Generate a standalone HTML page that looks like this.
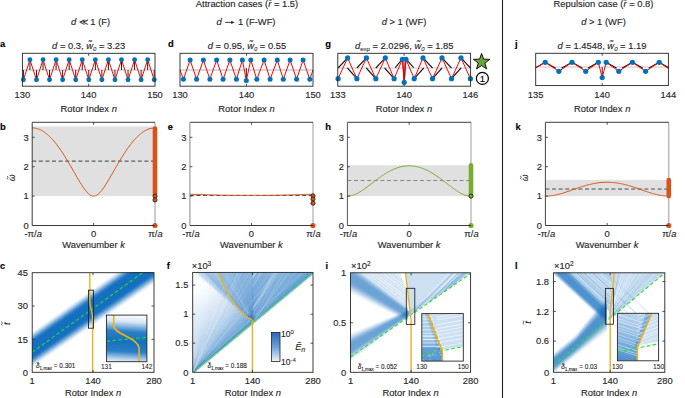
<!DOCTYPE html>
<html><head><meta charset="utf-8"><style>
html,body{margin:0;padding:0;background:#fff;}
svg{display:block;font-family:"Liberation Sans", sans-serif;}
text{stroke:currentColor;stroke-width:0.14px;paint-order:stroke;}
tspan[font-size="6"],tspan[font-size="4.6"],tspan[font-size="7"],text[font-size="6.4"],text[font-size="6.6"]{stroke-width:0.08px;}
</style></head><body>
<svg width="685" height="398" viewBox="0 0 685 398">
<defs>
<clipPath id="clipg"><rect x="337.8" y="53.3" width="132.8" height="32.9"/></clipPath>
<clipPath id="clipj"><rect x="535.7" y="53.3" width="132.7" height="32.3"/></clipPath>
<clipPath id="clipc"><rect x="32.2" y="272.7" width="121.8" height="99.6"/></clipPath>
<clipPath id="clipf"><rect x="192.7" y="272.4" width="120.3" height="99.9"/></clipPath>
<clipPath id="clipfL"><rect x="190" y="270" width="62.7" height="105"/></clipPath>
<clipPath id="clipfR"><rect x="252.5" y="270" width="65" height="105"/></clipPath>
<radialGradient id="gfw" gradientUnits="userSpaceOnUse" cx="193" cy="273" r="80"><stop offset="0" stop-color="#fff" stop-opacity="1"/><stop offset="0.22" stop-color="#fff" stop-opacity="0.92"/><stop offset="0.5" stop-color="#fff" stop-opacity="0.4"/><stop offset="0.85" stop-color="#fff" stop-opacity="0"/></radialGradient>
<clipPath id="clipi"><rect x="350.5" y="272.8" width="120.1" height="99.5"/></clipPath>
<clipPath id="clipii"><rect x="421.8" y="313.6" width="41.5" height="47.5"/></clipPath>
<clipPath id="clipl"><rect x="553.4" y="272.8" width="111.4" height="99.5"/></clipPath>
<clipPath id="clipli"><rect x="617.4" y="313.3" width="41.2" height="47.5"/></clipPath>
<linearGradient id="gci" gradientUnits="userSpaceOnUse" x1="126.00" y1="314.00" x2="123.00" y2="364.00"><stop offset="0" stop-color="#fff" stop-opacity="1"/><stop offset="0.15" stop-color="#d9e7f4" stop-opacity="1"/><stop offset="0.35" stop-color="#2a7fc6" stop-opacity="1"/><stop offset="0.55" stop-color="#1570BE" stop-opacity="1"/><stop offset="0.75" stop-color="#2a7fc6" stop-opacity="1"/><stop offset="0.9" stop-color="#b9d3ec" stop-opacity="1"/><stop offset="1" stop-color="#fff" stop-opacity="1"/></linearGradient><linearGradient id="gcb" gradientUnits="userSpaceOnUse" x1="0.00" y1="332.40" x2="0.00" y2="361.40"><stop offset="0" stop-color="#2868BE" stop-opacity="1"/><stop offset="0.5" stop-color="#6A9FD9" stop-opacity="1"/><stop offset="1" stop-color="#EEF4FB" stop-opacity="1"/></linearGradient><linearGradient id="gii" gradientUnits="userSpaceOnUse" x1="0.00" y1="313.60" x2="0.00" y2="361.10"><stop offset="0" stop-color="#1670C0" stop-opacity="0.30"/><stop offset="0.55" stop-color="#1670C0" stop-opacity="0.40"/><stop offset="0.75" stop-color="#1670C0" stop-opacity="0.68"/><stop offset="1" stop-color="#1670C0" stop-opacity="0.72"/></linearGradient><linearGradient id="gli" gradientUnits="userSpaceOnUse" x1="630.00" y1="313.30" x2="622.00" y2="360.80"><stop offset="0" stop-color="#1670C0" stop-opacity="0.30"/><stop offset="0.6" stop-color="#1670C0" stop-opacity="0.55"/><stop offset="1" stop-color="#1670C0" stop-opacity="0.78"/></linearGradient>
</defs>
<rect width="685" height="398" fill="#fff"/>
<text x="247.00" y="7.20" font-size="9.4" text-anchor="middle" font-weight="normal" fill="#262626" color="#262626" >Attraction cases (<tspan font-style="italic">r&#772;</tspan> = 1.5)</text>
<text x="603.50" y="7.20" font-size="9.4" text-anchor="middle" font-weight="normal" fill="#262626" color="#262626" >Repulsion case (<tspan font-style="italic">r&#772;</tspan> = 0.8)</text>
<text x="90.50" y="25.00" font-size="9.4" text-anchor="middle" font-weight="normal" fill="#262626" color="#262626" ><tspan font-style="italic">d</tspan> &#8810; 1 (F)</text>
<text x="216.60" y="25.00" font-size="9.4" text-anchor="start" font-weight="normal" fill="#262626" color="#262626" ><tspan font-style="italic">d</tspan></text>
<line x1="225.20" y1="22.40" x2="233.00" y2="22.40" stroke="#262626" stroke-width="0.9" />
<path d="M231.2,20.8 L234.6,22.4 L231.2,24.0 Z" fill="#262626"/>
<text x="238.00" y="25.00" font-size="9.4" text-anchor="start" font-weight="normal" fill="#262626" color="#262626" >1 (F-WF)</text>
<text x="404.00" y="25.00" font-size="9.4" text-anchor="middle" font-weight="normal" fill="#262626" color="#262626" ><tspan font-style="italic">d</tspan> &gt; 1 (WF)</text>
<text x="603.50" y="25.00" font-size="9.4" text-anchor="middle" font-weight="normal" fill="#262626" color="#262626" ><tspan font-style="italic">d</tspan> &gt; 1 (WF)</text>
<line x1="502.50" y1="0.00" x2="502.50" y2="398.00" stroke="#222" stroke-width="1.1" />
<text x="0.00" y="47.20" font-size="9.4" text-anchor="start" font-weight="bold" fill="#000" color="#000" >a</text>
<text x="88.70" y="49.20" font-size="9.4" text-anchor="middle" font-weight="normal" fill="#262626" color="#262626" ><tspan font-style="italic">d</tspan> = 0.3, <tspan font-style="italic">w&#771;</tspan><tspan font-size="6" dy="1.6" font-style="italic">0</tspan><tspan dy="-1.6"> = 3.23</tspan></text>
<line x1="22.40" y1="70.00" x2="155.00" y2="70.00" stroke="#d0d0d0" stroke-width="1.5" />
<line x1="23.40" y1="70.00" x2="23.40" y2="79.80" stroke="#222" stroke-width="1" />
<line x1="29.94" y1="70.00" x2="29.94" y2="59.80" stroke="#222" stroke-width="1" />
<line x1="36.48" y1="70.00" x2="36.48" y2="79.80" stroke="#222" stroke-width="1" />
<line x1="43.02" y1="70.00" x2="43.02" y2="59.80" stroke="#222" stroke-width="1" />
<line x1="49.56" y1="70.00" x2="49.56" y2="79.80" stroke="#222" stroke-width="1" />
<line x1="56.10" y1="70.00" x2="56.10" y2="59.80" stroke="#222" stroke-width="1" />
<line x1="62.64" y1="70.00" x2="62.64" y2="79.80" stroke="#222" stroke-width="1" />
<line x1="69.18" y1="70.00" x2="69.18" y2="59.80" stroke="#222" stroke-width="1" />
<line x1="75.72" y1="70.00" x2="75.72" y2="79.80" stroke="#222" stroke-width="1" />
<line x1="82.26" y1="70.00" x2="82.26" y2="59.80" stroke="#222" stroke-width="1" />
<line x1="88.80" y1="70.00" x2="88.80" y2="79.80" stroke="#222" stroke-width="1" />
<line x1="95.34" y1="70.00" x2="95.34" y2="59.80" stroke="#222" stroke-width="1" />
<line x1="101.88" y1="70.00" x2="101.88" y2="79.80" stroke="#222" stroke-width="1" />
<line x1="108.42" y1="70.00" x2="108.42" y2="59.80" stroke="#222" stroke-width="1" />
<line x1="114.96" y1="70.00" x2="114.96" y2="79.80" stroke="#222" stroke-width="1" />
<line x1="121.50" y1="70.00" x2="121.50" y2="59.80" stroke="#222" stroke-width="1" />
<line x1="128.04" y1="70.00" x2="128.04" y2="79.80" stroke="#222" stroke-width="1" />
<line x1="134.58" y1="70.00" x2="134.58" y2="59.80" stroke="#222" stroke-width="1" />
<line x1="141.12" y1="70.00" x2="141.12" y2="79.80" stroke="#222" stroke-width="1" />
<line x1="147.66" y1="70.00" x2="147.66" y2="59.80" stroke="#222" stroke-width="1" />
<line x1="154.20" y1="70.00" x2="154.20" y2="79.80" stroke="#222" stroke-width="1" />
<polyline points="23.40,79.80 29.94,59.80 36.48,79.80 43.02,59.80 49.56,79.80 56.10,59.80 62.64,79.80 69.18,59.80 75.72,79.80 82.26,59.80 88.80,79.80 95.34,59.80 101.88,79.80 108.42,59.80 114.96,79.80 121.50,59.80 128.04,79.80 134.58,59.80 141.12,79.80 147.66,59.80 154.20,79.80" fill="none" stroke="#FF0000" stroke-width="1" stroke-linejoin="round" />
<circle cx="23.40" cy="79.80" r="2.45" fill="#0072BD" stroke="none" stroke-width="0"/>
<circle cx="29.94" cy="59.80" r="2.45" fill="#0072BD" stroke="none" stroke-width="0"/>
<circle cx="36.48" cy="79.80" r="2.45" fill="#0072BD" stroke="none" stroke-width="0"/>
<circle cx="43.02" cy="59.80" r="2.45" fill="#0072BD" stroke="none" stroke-width="0"/>
<circle cx="49.56" cy="79.80" r="2.45" fill="#0072BD" stroke="none" stroke-width="0"/>
<circle cx="56.10" cy="59.80" r="2.45" fill="#0072BD" stroke="none" stroke-width="0"/>
<circle cx="62.64" cy="79.80" r="2.45" fill="#0072BD" stroke="none" stroke-width="0"/>
<circle cx="69.18" cy="59.80" r="2.45" fill="#0072BD" stroke="none" stroke-width="0"/>
<circle cx="75.72" cy="79.80" r="2.45" fill="#0072BD" stroke="none" stroke-width="0"/>
<circle cx="82.26" cy="59.80" r="2.45" fill="#0072BD" stroke="none" stroke-width="0"/>
<circle cx="88.80" cy="79.80" r="2.45" fill="#0072BD" stroke="none" stroke-width="0"/>
<circle cx="95.34" cy="59.80" r="2.45" fill="#0072BD" stroke="none" stroke-width="0"/>
<circle cx="101.88" cy="79.80" r="2.45" fill="#0072BD" stroke="none" stroke-width="0"/>
<circle cx="108.42" cy="59.80" r="2.45" fill="#0072BD" stroke="none" stroke-width="0"/>
<circle cx="114.96" cy="79.80" r="2.45" fill="#0072BD" stroke="none" stroke-width="0"/>
<circle cx="121.50" cy="59.80" r="2.45" fill="#0072BD" stroke="none" stroke-width="0"/>
<circle cx="128.04" cy="79.80" r="2.45" fill="#0072BD" stroke="none" stroke-width="0"/>
<circle cx="134.58" cy="59.80" r="2.45" fill="#0072BD" stroke="none" stroke-width="0"/>
<circle cx="141.12" cy="79.80" r="2.45" fill="#0072BD" stroke="none" stroke-width="0"/>
<circle cx="147.66" cy="59.80" r="2.45" fill="#0072BD" stroke="none" stroke-width="0"/>
<circle cx="154.20" cy="79.80" r="2.45" fill="#0072BD" stroke="none" stroke-width="0"/>
<rect x="22.40" y="53.30" width="132.60" height="32.90" fill="none" stroke="#262626" stroke-width="0.9"/>
<line x1="88.70" y1="53.30" x2="88.70" y2="55.80" stroke="#262626" stroke-width="0.8" />
<line x1="88.70" y1="86.20" x2="88.70" y2="83.70" stroke="#262626" stroke-width="0.8" />
<text x="22.40" y="97.60" font-size="9.4" text-anchor="middle" font-weight="normal" fill="#262626" color="#262626" >130</text>
<text x="88.70" y="97.60" font-size="9.4" text-anchor="middle" font-weight="normal" fill="#262626" color="#262626" >140</text>
<text x="155.00" y="97.60" font-size="9.4" text-anchor="middle" font-weight="normal" fill="#262626" color="#262626" >150</text>
<text x="88.70" y="111.70" font-size="9.4" text-anchor="middle" font-weight="normal" fill="#262626" color="#262626" >Rotor Index <tspan font-style="italic">n</tspan></text>
<text x="168.00" y="47.20" font-size="9.4" text-anchor="start" font-weight="bold" fill="#000" color="#000" >d</text>
<text x="247.00" y="49.20" font-size="9.4" text-anchor="middle" font-weight="normal" fill="#262626" color="#262626" ><tspan font-style="italic">d</tspan> = 0.95, <tspan font-style="italic">w&#771;</tspan><tspan font-size="6" dy="1.6" font-style="italic">0</tspan><tspan dy="-1.6"> = 0.55</tspan></text>
<line x1="180.00" y1="70.00" x2="313.00" y2="70.00" stroke="#d8d8d8" stroke-width="2" />
<line x1="246.30" y1="68.00" x2="246.30" y2="80.50" stroke="#222" stroke-width="1" />
<polyline points="180.00,70.00 183.40,79.30 190.10,60.00 196.60,79.30 203.40,60.00 209.90,79.30 216.60,60.00 223.10,79.30 229.90,60.00 236.40,79.30 242.40,60.00 246.30,80.50 250.80,60.00 256.80,79.30 264.10,60.00 270.10,79.30 277.30,60.00 283.30,79.30 290.10,60.00 296.60,79.30 303.10,60.00 309.80,79.30 313.00,70.00" fill="none" stroke="#FF0000" stroke-width="1" stroke-linejoin="round" />
<circle cx="183.40" cy="79.30" r="2.5" fill="#0072BD" stroke="none" stroke-width="0"/>
<circle cx="190.10" cy="60.00" r="2.5" fill="#0072BD" stroke="none" stroke-width="0"/>
<circle cx="196.60" cy="79.30" r="2.5" fill="#0072BD" stroke="none" stroke-width="0"/>
<circle cx="203.40" cy="60.00" r="2.5" fill="#0072BD" stroke="none" stroke-width="0"/>
<circle cx="209.90" cy="79.30" r="2.5" fill="#0072BD" stroke="none" stroke-width="0"/>
<circle cx="216.60" cy="60.00" r="2.5" fill="#0072BD" stroke="none" stroke-width="0"/>
<circle cx="223.10" cy="79.30" r="2.5" fill="#0072BD" stroke="none" stroke-width="0"/>
<circle cx="229.90" cy="60.00" r="2.5" fill="#0072BD" stroke="none" stroke-width="0"/>
<circle cx="236.40" cy="79.30" r="2.5" fill="#0072BD" stroke="none" stroke-width="0"/>
<circle cx="242.40" cy="60.00" r="2.5" fill="#0072BD" stroke="none" stroke-width="0"/>
<circle cx="246.30" cy="80.50" r="2.5" fill="#0072BD" stroke="none" stroke-width="0"/>
<circle cx="250.80" cy="60.00" r="2.5" fill="#0072BD" stroke="none" stroke-width="0"/>
<circle cx="256.80" cy="79.30" r="2.5" fill="#0072BD" stroke="none" stroke-width="0"/>
<circle cx="264.10" cy="60.00" r="2.5" fill="#0072BD" stroke="none" stroke-width="0"/>
<circle cx="270.10" cy="79.30" r="2.5" fill="#0072BD" stroke="none" stroke-width="0"/>
<circle cx="277.30" cy="60.00" r="2.5" fill="#0072BD" stroke="none" stroke-width="0"/>
<circle cx="283.30" cy="79.30" r="2.5" fill="#0072BD" stroke="none" stroke-width="0"/>
<circle cx="290.10" cy="60.00" r="2.5" fill="#0072BD" stroke="none" stroke-width="0"/>
<circle cx="296.60" cy="79.30" r="2.5" fill="#0072BD" stroke="none" stroke-width="0"/>
<circle cx="303.10" cy="60.00" r="2.5" fill="#0072BD" stroke="none" stroke-width="0"/>
<circle cx="309.80" cy="79.30" r="2.5" fill="#0072BD" stroke="none" stroke-width="0"/>
<rect x="180.00" y="53.30" width="133.00" height="32.90" fill="none" stroke="#262626" stroke-width="0.9"/>
<line x1="246.50" y1="53.30" x2="246.50" y2="55.80" stroke="#262626" stroke-width="0.8" />
<line x1="246.50" y1="86.20" x2="246.50" y2="83.70" stroke="#262626" stroke-width="0.8" />
<text x="180.00" y="97.60" font-size="9.4" text-anchor="middle" font-weight="normal" fill="#262626" color="#262626" >130</text>
<text x="246.50" y="97.60" font-size="9.4" text-anchor="middle" font-weight="normal" fill="#262626" color="#262626" >140</text>
<text x="313.00" y="97.60" font-size="9.4" text-anchor="middle" font-weight="normal" fill="#262626" color="#262626" >150</text>
<text x="246.50" y="111.70" font-size="9.4" text-anchor="middle" font-weight="normal" fill="#262626" color="#262626" >Rotor Index <tspan font-style="italic">n</tspan></text>
<text x="325.30" y="47.20" font-size="9.4" text-anchor="start" font-weight="bold" fill="#000" color="#000" >g</text>
<text x="404.20" y="49.20" font-size="9.4" text-anchor="middle" font-weight="normal" fill="#262626" color="#262626" ><tspan font-style="italic">d</tspan><tspan font-size="6" dy="1.6">exp</tspan><tspan dy="-1.6"> = 2.0296, </tspan><tspan font-style="italic">w&#771;</tspan><tspan font-size="6" dy="1.6" font-style="italic">0</tspan><tspan dy="-1.6"> = 1.85</tspan></text>
<line x1="337.80" y1="68.00" x2="470.60" y2="68.00" stroke="#d8d8d8" stroke-width="1.5" />
<g clip-path="url(#clipg)">
<line x1="338.10" y1="68.00" x2="347.60" y2="57.90" stroke="#1a1a1a" stroke-width="1.15" />
<line x1="356.90" y1="68.00" x2="366.40" y2="57.90" stroke="#1a1a1a" stroke-width="1.15" />
<line x1="375.80" y1="68.00" x2="385.30" y2="57.90" stroke="#1a1a1a" stroke-width="1.15" />
<line x1="328.60" y1="68.00" x2="338.10" y2="78.70" stroke="#1a1a1a" stroke-width="1.15" />
<line x1="347.40" y1="68.00" x2="356.90" y2="78.70" stroke="#1a1a1a" stroke-width="1.15" />
<line x1="366.30" y1="68.00" x2="375.80" y2="78.70" stroke="#1a1a1a" stroke-width="1.15" />
<line x1="384.60" y1="68.00" x2="394.10" y2="78.70" stroke="#1a1a1a" stroke-width="1.15" />
<line x1="423.00" y1="57.90" x2="432.50" y2="68.00" stroke="#1a1a1a" stroke-width="1.15" />
<line x1="442.00" y1="57.90" x2="451.50" y2="68.00" stroke="#1a1a1a" stroke-width="1.15" />
<line x1="461.00" y1="57.90" x2="470.50" y2="68.00" stroke="#1a1a1a" stroke-width="1.15" />
<line x1="414.20" y1="78.70" x2="423.70" y2="68.00" stroke="#1a1a1a" stroke-width="1.15" />
<line x1="432.50" y1="78.70" x2="442.00" y2="68.00" stroke="#1a1a1a" stroke-width="1.15" />
<line x1="451.50" y1="78.70" x2="461.00" y2="68.00" stroke="#1a1a1a" stroke-width="1.15" />
<line x1="470.40" y1="78.70" x2="479.90" y2="68.00" stroke="#1a1a1a" stroke-width="1.15" />
<line x1="395.20" y1="67.70" x2="402.40" y2="59.20" stroke="#1a1a1a" stroke-width="1.15" />
<line x1="406.00" y1="59.20" x2="413.70" y2="67.70" stroke="#1a1a1a" stroke-width="1.15" />
</g>
<polyline points="338.10,78.70 347.60,57.90 356.90,78.70 366.40,57.90 375.80,78.70 385.30,57.90 394.10,78.70 402.40,59.30 404.20,82.30 406.00,59.30 414.20,78.70 423.00,57.90 432.50,78.70 442.00,57.90 451.50,78.70 461.00,57.90 470.40,78.70" fill="none" stroke="#FF0000" stroke-width="1" stroke-linejoin="round" />
<line x1="402.60" y1="59.30" x2="404.20" y2="82.30" stroke="#FF0000" stroke-width="1.1" />
<line x1="405.80" y1="59.30" x2="404.20" y2="82.30" stroke="#FF0000" stroke-width="1.1" />
<line x1="404.20" y1="62.00" x2="404.20" y2="80.00" stroke="#7a1010" stroke-width="0.8" />
<circle cx="338.10" cy="78.70" r="2.6" fill="#0072BD" stroke="none" stroke-width="0"/>
<circle cx="347.60" cy="57.90" r="2.6" fill="#0072BD" stroke="none" stroke-width="0"/>
<circle cx="356.90" cy="78.70" r="2.6" fill="#0072BD" stroke="none" stroke-width="0"/>
<circle cx="366.40" cy="57.90" r="2.6" fill="#0072BD" stroke="none" stroke-width="0"/>
<circle cx="375.80" cy="78.70" r="2.6" fill="#0072BD" stroke="none" stroke-width="0"/>
<circle cx="385.30" cy="57.90" r="2.6" fill="#0072BD" stroke="none" stroke-width="0"/>
<circle cx="394.10" cy="78.70" r="2.6" fill="#0072BD" stroke="none" stroke-width="0"/>
<circle cx="402.40" cy="59.30" r="2.6" fill="#0072BD" stroke="none" stroke-width="0"/>
<circle cx="404.20" cy="82.30" r="2.6" fill="#0072BD" stroke="none" stroke-width="0"/>
<circle cx="406.00" cy="59.30" r="2.6" fill="#0072BD" stroke="none" stroke-width="0"/>
<circle cx="414.20" cy="78.70" r="2.6" fill="#0072BD" stroke="none" stroke-width="0"/>
<circle cx="423.00" cy="57.90" r="2.6" fill="#0072BD" stroke="none" stroke-width="0"/>
<circle cx="432.50" cy="78.70" r="2.6" fill="#0072BD" stroke="none" stroke-width="0"/>
<circle cx="442.00" cy="57.90" r="2.6" fill="#0072BD" stroke="none" stroke-width="0"/>
<circle cx="451.50" cy="78.70" r="2.6" fill="#0072BD" stroke="none" stroke-width="0"/>
<circle cx="461.00" cy="57.90" r="2.6" fill="#0072BD" stroke="none" stroke-width="0"/>
<circle cx="470.40" cy="78.70" r="2.6" fill="#0072BD" stroke="none" stroke-width="0"/>
<rect x="337.80" y="53.30" width="132.80" height="32.90" fill="none" stroke="#262626" stroke-width="0.9"/>
<line x1="404.10" y1="53.30" x2="404.10" y2="55.80" stroke="#262626" stroke-width="0.8" />
<line x1="404.10" y1="86.20" x2="404.10" y2="83.70" stroke="#262626" stroke-width="0.8" />
<text x="337.80" y="97.60" font-size="9.4" text-anchor="middle" font-weight="normal" fill="#262626" color="#262626" >133</text>
<text x="404.10" y="97.60" font-size="9.4" text-anchor="middle" font-weight="normal" fill="#262626" color="#262626" >140</text>
<text x="470.30" y="97.60" font-size="9.4" text-anchor="middle" font-weight="normal" fill="#262626" color="#262626" >146</text>
<text x="404.00" y="111.70" font-size="9.4" text-anchor="middle" font-weight="normal" fill="#262626" color="#262626" >Rotor Index <tspan font-style="italic">n</tspan></text>
<polygon points="481.60,53.40 483.66,59.17 489.78,59.34 484.93,63.08 486.65,68.96 481.60,65.50 476.55,68.96 478.27,63.08 473.42,59.34 479.54,59.17" fill="#6BA43A" stroke="#000" stroke-width="0.9" stroke-linejoin="miter"/>
<circle cx="482.4" cy="78.4" r="6.0" fill="none" stroke="#000" stroke-width="1.2"/>
<text x="482.50" y="81.90" font-size="9.5" text-anchor="middle" font-weight="normal" fill="#000" color="#000" >1</text>
<text x="515.00" y="47.20" font-size="9.4" text-anchor="start" font-weight="bold" fill="#000" color="#000" >j</text>
<text x="602.00" y="49.20" font-size="9.4" text-anchor="middle" font-weight="normal" fill="#262626" color="#262626" ><tspan font-style="italic">d</tspan> = 1.4548, <tspan font-style="italic">w&#771;</tspan><tspan font-size="6" dy="1.6" font-style="italic">0</tspan><tspan dy="-1.6"> = 1.19</tspan></text>
<line x1="535.70" y1="67.10" x2="668.40" y2="67.10" stroke="#d8d8d8" stroke-width="1.5" />
<g clip-path="url(#clipj)">
<line x1="545.20" y1="62.30" x2="534.70" y2="68.20" stroke="#1a1a1a" stroke-width="1.1" />
<line x1="545.20" y1="62.30" x2="555.70" y2="68.20" stroke="#1a1a1a" stroke-width="1.1" />
<line x1="572.00" y1="62.30" x2="561.50" y2="68.20" stroke="#1a1a1a" stroke-width="1.1" />
<line x1="572.00" y1="62.30" x2="582.50" y2="68.20" stroke="#1a1a1a" stroke-width="1.1" />
<line x1="598.30" y1="62.30" x2="587.80" y2="68.20" stroke="#1a1a1a" stroke-width="1.1" />
<line x1="606.20" y1="62.30" x2="616.70" y2="68.20" stroke="#1a1a1a" stroke-width="1.1" />
<line x1="632.40" y1="62.30" x2="621.90" y2="68.20" stroke="#1a1a1a" stroke-width="1.1" />
<line x1="632.40" y1="62.30" x2="642.90" y2="68.20" stroke="#1a1a1a" stroke-width="1.1" />
<line x1="659.20" y1="62.30" x2="648.70" y2="68.20" stroke="#1a1a1a" stroke-width="1.1" />
<line x1="659.20" y1="62.30" x2="669.70" y2="68.20" stroke="#1a1a1a" stroke-width="1.1" />
<line x1="602.20" y1="67.00" x2="602.20" y2="77.60" stroke="#222" stroke-width="1" />
</g>
<polyline points="535.70,67.80 545.20,62.30 558.90,71.30 572.00,62.30 585.70,71.30 598.30,62.30 602.20,77.60 606.20,62.30 618.80,71.30 632.40,62.30 645.60,71.30 659.20,62.30 668.40,68.50" fill="none" stroke="#FF0000" stroke-width="1" stroke-linejoin="round" />
<circle cx="545.20" cy="62.30" r="2.6" fill="#0072BD" stroke="none" stroke-width="0"/>
<circle cx="558.90" cy="71.30" r="2.6" fill="#0072BD" stroke="none" stroke-width="0"/>
<circle cx="572.00" cy="62.30" r="2.6" fill="#0072BD" stroke="none" stroke-width="0"/>
<circle cx="585.70" cy="71.30" r="2.6" fill="#0072BD" stroke="none" stroke-width="0"/>
<circle cx="598.30" cy="62.30" r="2.6" fill="#0072BD" stroke="none" stroke-width="0"/>
<circle cx="602.20" cy="77.60" r="2.6" fill="#0072BD" stroke="none" stroke-width="0"/>
<circle cx="606.20" cy="62.30" r="2.6" fill="#0072BD" stroke="none" stroke-width="0"/>
<circle cx="618.80" cy="71.30" r="2.6" fill="#0072BD" stroke="none" stroke-width="0"/>
<circle cx="632.40" cy="62.30" r="2.6" fill="#0072BD" stroke="none" stroke-width="0"/>
<circle cx="645.60" cy="71.30" r="2.6" fill="#0072BD" stroke="none" stroke-width="0"/>
<circle cx="659.20" cy="62.30" r="2.6" fill="#0072BD" stroke="none" stroke-width="0"/>
<rect x="535.70" y="53.30" width="132.70" height="32.30" fill="none" stroke="#262626" stroke-width="0.9"/>
<line x1="602.20" y1="53.30" x2="602.20" y2="55.80" stroke="#262626" stroke-width="0.8" />
<line x1="602.20" y1="85.60" x2="602.20" y2="83.10" stroke="#262626" stroke-width="0.8" />
<text x="535.70" y="97.60" font-size="9.4" text-anchor="middle" font-weight="normal" fill="#262626" color="#262626" >135</text>
<text x="602.20" y="97.60" font-size="9.4" text-anchor="middle" font-weight="normal" fill="#262626" color="#262626" >140</text>
<text x="668.40" y="97.60" font-size="9.4" text-anchor="middle" font-weight="normal" fill="#262626" color="#262626" >144</text>
<text x="602.20" y="111.70" font-size="9.4" text-anchor="middle" font-weight="normal" fill="#262626" color="#262626" >Rotor Index <tspan font-style="italic">n</tspan></text>
<text x="0.00" y="130.00" font-size="9.4" text-anchor="start" font-weight="bold" fill="#000" color="#000" >b</text>
<rect x="32.20" y="126.42" width="122.80" height="69.68" fill="#E0E0E0"/>
<line x1="32.20" y1="161.11" x2="155.00" y2="161.11" stroke="#222" stroke-width="0.85" stroke-dasharray="4,2.6"/>
<polyline points="32.20,127.89 33.22,127.92 34.25,128.01 35.27,128.17 36.29,128.38 37.32,128.65 38.34,128.98 39.36,129.38 40.39,129.83 41.41,130.34 42.43,130.91 43.46,131.54 44.48,132.23 45.50,132.97 46.53,133.77 47.55,134.62 48.57,135.53 49.60,136.50 50.62,137.51 51.64,138.58 52.67,139.70 53.69,140.87 54.71,142.09 55.74,143.35 56.76,144.66 57.78,146.02 58.81,147.42 59.83,148.86 60.85,150.34 61.88,151.86 62.90,153.42 63.92,155.01 64.95,156.63 65.97,158.28 66.99,159.96 68.02,161.67 69.04,163.39 70.06,165.14 71.09,166.90 72.11,168.67 73.13,170.45 74.16,172.24 75.18,174.02 76.20,175.80 77.23,177.57 78.25,179.32 79.27,181.04 80.30,182.73 81.32,184.37 82.34,185.96 83.37,187.49 84.39,188.94 85.41,190.30 86.44,191.56 87.46,192.69 88.48,193.69 89.51,194.53 90.53,195.21 91.55,195.70 92.58,196.00 93.60,196.10 94.62,196.00 95.65,195.70 96.67,195.21 97.69,194.53 98.72,193.69 99.74,192.69 100.76,191.56 101.79,190.30 102.81,188.94 103.83,187.49 104.86,185.96 105.88,184.37 106.90,182.73 107.93,181.04 108.95,179.32 109.97,177.57 111.00,175.80 112.02,174.02 113.04,172.24 114.07,170.45 115.09,168.67 116.11,166.90 117.14,165.14 118.16,163.39 119.18,161.67 120.21,159.96 121.23,158.28 122.25,156.63 123.28,155.01 124.30,153.42 125.32,151.86 126.35,150.34 127.37,148.86 128.39,147.42 129.42,146.02 130.44,144.66 131.46,143.35 132.49,142.09 133.51,140.87 134.53,139.70 135.56,138.58 136.58,137.51 137.60,136.50 138.63,135.53 139.65,134.62 140.67,133.77 141.70,132.97 142.72,132.23 143.74,131.54 144.77,130.91 145.79,130.34 146.81,129.83 147.84,129.38 148.86,128.98 149.88,128.65 150.91,128.38 151.93,128.17 152.95,128.01 153.98,127.92 155.00,127.89" fill="none" stroke="#D95319" stroke-width="1" stroke-linejoin="round" />
<line x1="155.00" y1="122.30" x2="155.00" y2="225.50" stroke="#9a9a9a" stroke-width="1" />
<line x1="155.00" y1="128.48" x2="155.00" y2="194.04" stroke="#D95319" stroke-width="4.6" stroke-linecap="round"/>
<circle cx="155.00" cy="196.10" r="2.1" fill="#D95319" stroke="#111" stroke-width="0.75"/>
<circle cx="155.00" cy="199.92" r="2.1" fill="#D95319" stroke="#111" stroke-width="0.75"/>
<circle cx="155.00" cy="225.50" r="2.6" fill="#D95319" stroke="none" stroke-width="0"/>
<line x1="32.20" y1="122.30" x2="155.00" y2="122.30" stroke="#262626" stroke-width="0.9" />
<line x1="32.20" y1="122.30" x2="32.20" y2="225.50" stroke="#262626" stroke-width="0.9" />
<line x1="32.20" y1="225.50" x2="155.00" y2="225.50" stroke="#262626" stroke-width="0.9" />
<line x1="32.20" y1="196.10" x2="34.70" y2="196.10" stroke="#262626" stroke-width="0.8" />
<line x1="32.20" y1="166.70" x2="34.70" y2="166.70" stroke="#262626" stroke-width="0.8" />
<line x1="32.20" y1="137.30" x2="34.70" y2="137.30" stroke="#262626" stroke-width="0.8" />
<line x1="93.60" y1="225.50" x2="93.60" y2="223.00" stroke="#262626" stroke-width="0.8" />
<line x1="93.60" y1="122.30" x2="93.60" y2="124.80" stroke="#262626" stroke-width="0.8" />
<text x="28.70" y="228.70" font-size="9.4" text-anchor="end" font-weight="normal" fill="#262626" color="#262626" >0</text>
<text x="28.70" y="199.30" font-size="9.4" text-anchor="end" font-weight="normal" fill="#262626" color="#262626" >1</text>
<text x="28.70" y="169.90" font-size="9.4" text-anchor="end" font-weight="normal" fill="#262626" color="#262626" >2</text>
<text x="28.70" y="140.50" font-size="9.4" text-anchor="end" font-weight="normal" fill="#262626" color="#262626" >3</text>
<text x="33.20" y="237.40" font-size="9.4" text-anchor="middle" font-weight="normal" fill="#262626" color="#262626" >-&#960;/<tspan font-style="italic">a</tspan></text>
<text x="93.60" y="237.40" font-size="9.4" text-anchor="middle" font-weight="normal" fill="#262626" color="#262626" >0</text>
<text x="155.50" y="237.40" font-size="9.4" text-anchor="middle" font-weight="normal" fill="#262626" color="#262626" >&#960;/<tspan font-style="italic">a</tspan></text>
<text x="93.60" y="247.60" font-size="9.4" text-anchor="middle" font-weight="normal" fill="#262626" color="#262626" >Wavenumber <tspan font-style="italic">k</tspan></text>
<g transform="translate(15.00,177.80) rotate(-90)"><text x="0" y="0" font-size="8.4" text-anchor="middle" fill="#262626" color="#262626" font-style="italic">&#969;</text><path d="M-1.50,-6.80 C-0.90,-8.40 -0.30,-7.50 0,-7.30 S0.90,-6.30 1.50,-7.90" fill="none" stroke="#262626" stroke-width="0.75"/></g>
<text x="167.70" y="130.00" font-size="9.4" text-anchor="start" font-weight="bold" fill="#000" color="#000" >e</text>
<rect x="189.90" y="194.63" width="123.10" height="1.47" fill="#E0E0E0"/>
<line x1="189.90" y1="195.51" x2="313.00" y2="195.51" stroke="#333" stroke-width="0.85" stroke-dasharray="4,2.6"/>
<polyline points="189.90,194.34 190.93,194.34 191.95,194.34 192.98,194.35 194.00,194.36 195.03,194.37 196.06,194.39 197.08,194.40 198.11,194.42 199.13,194.45 200.16,194.47 201.18,194.50 202.21,194.52 203.24,194.55 204.26,194.58 205.29,194.62 206.31,194.65 207.34,194.68 208.37,194.72 209.39,194.75 210.42,194.79 211.44,194.82 212.47,194.86 213.49,194.89 214.52,194.92 215.55,194.96 216.57,194.99 217.60,195.02 218.62,195.05 219.65,195.08 220.68,195.11 221.70,195.13 222.73,195.16 223.75,195.18 224.78,195.20 225.80,195.22 226.83,195.24 227.86,195.26 228.88,195.27 229.91,195.29 230.93,195.30 231.96,195.31 232.99,195.32 234.01,195.33 235.04,195.34 236.06,195.34 237.09,195.35 238.11,195.35 239.14,195.36 240.17,195.36 241.19,195.36 242.22,195.36 243.24,195.36 244.27,195.36 245.30,195.36 246.32,195.36 247.35,195.36 248.37,195.36 249.40,195.36 250.42,195.36 251.45,195.37 252.48,195.36 253.50,195.36 254.53,195.36 255.55,195.36 256.58,195.36 257.61,195.36 258.63,195.36 259.66,195.36 260.68,195.36 261.71,195.36 262.73,195.36 263.76,195.36 264.79,195.35 265.81,195.35 266.84,195.34 267.86,195.34 268.89,195.33 269.92,195.32 270.94,195.31 271.97,195.30 272.99,195.29 274.02,195.27 275.04,195.26 276.07,195.24 277.10,195.22 278.12,195.20 279.15,195.18 280.17,195.16 281.20,195.13 282.23,195.11 283.25,195.08 284.28,195.05 285.30,195.02 286.33,194.99 287.35,194.96 288.38,194.92 289.41,194.89 290.43,194.86 291.46,194.82 292.48,194.79 293.51,194.75 294.53,194.72 295.56,194.68 296.59,194.65 297.61,194.62 298.64,194.58 299.66,194.55 300.69,194.52 301.72,194.50 302.74,194.47 303.77,194.45 304.79,194.42 305.82,194.40 306.85,194.39 307.87,194.37 308.90,194.36 309.92,194.35 310.95,194.34 311.97,194.34 313.00,194.34" fill="none" stroke="#D95319" stroke-width="1" stroke-linejoin="round" />
<line x1="313.00" y1="122.30" x2="313.00" y2="225.50" stroke="#9a9a9a" stroke-width="1" />
<circle cx="313.00" cy="195.81" r="2.1" fill="#D95319" stroke="#111" stroke-width="0.75"/>
<circle cx="313.00" cy="199.04" r="2.1" fill="#D95319" stroke="#111" stroke-width="0.75"/>
<circle cx="313.00" cy="203.16" r="2.1" fill="#D95319" stroke="#111" stroke-width="0.75"/>
<circle cx="313.00" cy="225.50" r="2.6" fill="#D95319" stroke="none" stroke-width="0"/>
<line x1="189.90" y1="122.30" x2="313.00" y2="122.30" stroke="#262626" stroke-width="0.9" />
<line x1="189.90" y1="122.30" x2="189.90" y2="225.50" stroke="#9a9a9a" stroke-width="1.2" />
<line x1="189.90" y1="225.50" x2="313.00" y2="225.50" stroke="#262626" stroke-width="0.9" />
<line x1="189.90" y1="196.10" x2="192.40" y2="196.10" stroke="#262626" stroke-width="0.8" />
<line x1="189.90" y1="166.70" x2="192.40" y2="166.70" stroke="#262626" stroke-width="0.8" />
<line x1="189.90" y1="137.30" x2="192.40" y2="137.30" stroke="#262626" stroke-width="0.8" />
<line x1="251.45" y1="225.50" x2="251.45" y2="223.00" stroke="#262626" stroke-width="0.8" />
<line x1="251.45" y1="122.30" x2="251.45" y2="124.80" stroke="#262626" stroke-width="0.8" />
<text x="186.40" y="228.70" font-size="9.4" text-anchor="end" font-weight="normal" fill="#262626" color="#262626" >0</text>
<text x="186.40" y="199.30" font-size="9.4" text-anchor="end" font-weight="normal" fill="#262626" color="#262626" >1</text>
<text x="186.40" y="169.90" font-size="9.4" text-anchor="end" font-weight="normal" fill="#262626" color="#262626" >2</text>
<text x="186.40" y="140.50" font-size="9.4" text-anchor="end" font-weight="normal" fill="#262626" color="#262626" >3</text>
<text x="190.90" y="237.40" font-size="9.4" text-anchor="middle" font-weight="normal" fill="#262626" color="#262626" >-&#960;/<tspan font-style="italic">a</tspan></text>
<text x="251.45" y="237.40" font-size="9.4" text-anchor="middle" font-weight="normal" fill="#262626" color="#262626" >0</text>
<text x="313.50" y="237.40" font-size="9.4" text-anchor="middle" font-weight="normal" fill="#262626" color="#262626" >&#960;/<tspan font-style="italic">a</tspan></text>
<text x="251.45" y="247.60" font-size="9.4" text-anchor="middle" font-weight="normal" fill="#262626" color="#262626" >Wavenumber <tspan font-style="italic">k</tspan></text>
<text x="325.30" y="130.00" font-size="9.4" text-anchor="start" font-weight="bold" fill="#000" color="#000" >h</text>
<rect x="347.40" y="165.23" width="123.60" height="30.87" fill="#E0E0E0"/>
<line x1="347.40" y1="180.52" x2="471.00" y2="180.52" stroke="#777" stroke-width="0.85" stroke-dasharray="4,2.6"/>
<polyline points="347.40,196.10 348.43,196.07 349.46,195.97 350.49,195.82 351.52,195.60 352.55,195.33 353.58,195.00 354.61,194.61 355.64,194.18 356.67,193.70 357.70,193.17 358.73,192.61 359.76,192.00 360.79,191.37 361.82,190.70 362.85,190.01 363.88,189.30 364.91,188.56 365.94,187.81 366.97,187.05 368.00,186.27 369.03,185.49 370.06,184.70 371.09,183.91 372.12,183.12 373.15,182.33 374.18,181.54 375.21,180.75 376.24,179.98 377.27,179.21 378.30,178.46 379.33,177.71 380.36,176.98 381.39,176.26 382.42,175.56 383.45,174.88 384.48,174.22 385.51,173.57 386.54,172.95 387.57,172.34 388.60,171.76 389.63,171.21 390.66,170.67 391.69,170.16 392.72,169.68 393.75,169.22 394.78,168.79 395.81,168.39 396.84,168.02 397.87,167.67 398.90,167.35 399.93,167.06 400.96,166.80 401.99,166.57 403.02,166.37 404.05,166.20 405.08,166.07 406.11,165.96 407.14,165.88 408.17,165.83 409.20,165.82 410.23,165.83 411.26,165.88 412.29,165.96 413.32,166.07 414.35,166.20 415.38,166.37 416.41,166.57 417.44,166.80 418.47,167.06 419.50,167.35 420.53,167.67 421.56,168.02 422.59,168.39 423.62,168.79 424.65,169.22 425.68,169.68 426.71,170.16 427.74,170.67 428.77,171.21 429.80,171.76 430.83,172.34 431.86,172.95 432.89,173.57 433.92,174.22 434.95,174.88 435.98,175.56 437.01,176.26 438.04,176.98 439.07,177.71 440.10,178.46 441.13,179.21 442.16,179.98 443.19,180.75 444.22,181.54 445.25,182.33 446.28,183.12 447.31,183.91 448.34,184.70 449.37,185.49 450.40,186.27 451.43,187.05 452.46,187.81 453.49,188.56 454.52,189.30 455.55,190.01 456.58,190.70 457.61,191.37 458.64,192.00 459.67,192.61 460.70,193.17 461.73,193.70 462.76,194.18 463.79,194.61 464.82,195.00 465.85,195.33 466.88,195.60 467.91,195.82 468.94,195.97 469.97,196.07 471.00,196.10" fill="none" stroke="#77AC30" stroke-width="1" stroke-linejoin="round" />
<line x1="471.00" y1="122.30" x2="471.00" y2="225.50" stroke="#9a9a9a" stroke-width="1" />
<line x1="471.00" y1="165.23" x2="471.00" y2="196.10" stroke="#77AC30" stroke-width="4.6" stroke-linecap="round"/>
<circle cx="471.00" cy="196.10" r="2.1" fill="#77AC30" stroke="#111" stroke-width="0.75"/>
<circle cx="471.00" cy="225.50" r="2.6" fill="#77AC30" stroke="none" stroke-width="0"/>
<line x1="347.40" y1="122.30" x2="471.00" y2="122.30" stroke="#262626" stroke-width="0.9" />
<line x1="347.40" y1="122.30" x2="347.40" y2="225.50" stroke="#555" stroke-width="1.0" />
<line x1="347.40" y1="225.50" x2="471.00" y2="225.50" stroke="#262626" stroke-width="0.9" />
<line x1="347.40" y1="196.10" x2="349.90" y2="196.10" stroke="#262626" stroke-width="0.8" />
<line x1="347.40" y1="166.70" x2="349.90" y2="166.70" stroke="#262626" stroke-width="0.8" />
<line x1="347.40" y1="137.30" x2="349.90" y2="137.30" stroke="#262626" stroke-width="0.8" />
<line x1="409.20" y1="225.50" x2="409.20" y2="223.00" stroke="#262626" stroke-width="0.8" />
<line x1="409.20" y1="122.30" x2="409.20" y2="124.80" stroke="#262626" stroke-width="0.8" />
<text x="343.90" y="228.70" font-size="9.4" text-anchor="end" font-weight="normal" fill="#262626" color="#262626" >0</text>
<text x="343.90" y="199.30" font-size="9.4" text-anchor="end" font-weight="normal" fill="#262626" color="#262626" >1</text>
<text x="343.90" y="169.90" font-size="9.4" text-anchor="end" font-weight="normal" fill="#262626" color="#262626" >2</text>
<text x="343.90" y="140.50" font-size="9.4" text-anchor="end" font-weight="normal" fill="#262626" color="#262626" >3</text>
<text x="348.40" y="237.40" font-size="9.4" text-anchor="middle" font-weight="normal" fill="#262626" color="#262626" >-&#960;/<tspan font-style="italic">a</tspan></text>
<text x="409.20" y="237.40" font-size="9.4" text-anchor="middle" font-weight="normal" fill="#262626" color="#262626" >0</text>
<text x="471.50" y="237.40" font-size="9.4" text-anchor="middle" font-weight="normal" fill="#262626" color="#262626" >&#960;/<tspan font-style="italic">a</tspan></text>
<text x="409.20" y="247.60" font-size="9.4" text-anchor="middle" font-weight="normal" fill="#262626" color="#262626" >Wavenumber <tspan font-style="italic">k</tspan></text>
<text x="515.50" y="130.00" font-size="9.4" text-anchor="start" font-weight="bold" fill="#000" color="#000" >k</text>
<rect x="545.40" y="179.93" width="123.40" height="16.17" fill="#E0E0E0"/>
<line x1="545.40" y1="189.04" x2="668.80" y2="189.04" stroke="#333" stroke-width="0.85" stroke-dasharray="4,2.6"/>
<polyline points="545.40,196.10 546.43,196.09 547.46,196.05 548.49,196.00 549.51,195.91 550.54,195.81 551.57,195.69 552.60,195.54 553.63,195.37 554.65,195.18 555.68,194.98 556.71,194.75 557.74,194.51 558.77,194.26 559.80,193.98 560.82,193.70 561.85,193.40 562.88,193.09 563.91,192.77 564.94,192.44 565.97,192.11 567.00,191.76 568.02,191.41 569.05,191.06 570.08,190.70 571.11,190.34 572.14,189.98 573.16,189.62 574.19,189.26 575.22,188.90 576.25,188.54 577.28,188.19 578.31,187.84 579.33,187.49 580.36,187.15 581.39,186.82 582.42,186.50 583.45,186.18 584.48,185.87 585.50,185.58 586.53,185.29 587.56,185.01 588.59,184.74 589.62,184.49 590.65,184.25 591.67,184.02 592.70,183.80 593.73,183.60 594.76,183.41 595.79,183.23 596.82,183.07 597.84,182.92 598.87,182.79 599.90,182.67 600.93,182.57 601.96,182.48 602.99,182.41 604.01,182.35 605.04,182.31 606.07,182.29 607.10,182.28 608.13,182.29 609.16,182.31 610.18,182.35 611.21,182.41 612.24,182.48 613.27,182.57 614.30,182.67 615.33,182.79 616.36,182.92 617.38,183.07 618.41,183.23 619.44,183.41 620.47,183.60 621.50,183.80 622.52,184.02 623.55,184.25 624.58,184.49 625.61,184.74 626.64,185.01 627.67,185.29 628.69,185.58 629.72,185.87 630.75,186.18 631.78,186.50 632.81,186.82 633.84,187.15 634.87,187.49 635.89,187.84 636.92,188.19 637.95,188.54 638.98,188.90 640.01,189.26 641.03,189.62 642.06,189.98 643.09,190.34 644.12,190.70 645.15,191.06 646.18,191.41 647.20,191.76 648.23,192.11 649.26,192.44 650.29,192.77 651.32,193.09 652.35,193.40 653.38,193.70 654.40,193.98 655.43,194.26 656.46,194.51 657.49,194.75 658.52,194.98 659.54,195.18 660.57,195.37 661.60,195.54 662.63,195.69 663.66,195.81 664.69,195.91 665.71,196.00 666.74,196.05 667.77,196.09 668.80,196.10" fill="none" stroke="#D95319" stroke-width="1" stroke-linejoin="round" />
<line x1="668.80" y1="122.30" x2="668.80" y2="225.50" stroke="#9a9a9a" stroke-width="1" />
<line x1="668.80" y1="179.93" x2="668.80" y2="196.10" stroke="#D95319" stroke-width="4.6" stroke-linecap="round"/>
<circle cx="668.80" cy="225.50" r="2.6" fill="#D95319" stroke="none" stroke-width="0"/>
<line x1="545.40" y1="122.30" x2="668.80" y2="122.30" stroke="#262626" stroke-width="0.9" />
<line x1="545.40" y1="122.30" x2="545.40" y2="225.50" stroke="#444" stroke-width="1.0" />
<line x1="545.40" y1="225.50" x2="668.80" y2="225.50" stroke="#262626" stroke-width="0.9" />
<line x1="545.40" y1="196.10" x2="547.90" y2="196.10" stroke="#262626" stroke-width="0.8" />
<line x1="545.40" y1="166.70" x2="547.90" y2="166.70" stroke="#262626" stroke-width="0.8" />
<line x1="545.40" y1="137.30" x2="547.90" y2="137.30" stroke="#262626" stroke-width="0.8" />
<line x1="607.10" y1="225.50" x2="607.10" y2="223.00" stroke="#262626" stroke-width="0.8" />
<line x1="607.10" y1="122.30" x2="607.10" y2="124.80" stroke="#262626" stroke-width="0.8" />
<text x="541.90" y="228.70" font-size="9.4" text-anchor="end" font-weight="normal" fill="#262626" color="#262626" >0</text>
<text x="541.90" y="199.30" font-size="9.4" text-anchor="end" font-weight="normal" fill="#262626" color="#262626" >1</text>
<text x="541.90" y="169.90" font-size="9.4" text-anchor="end" font-weight="normal" fill="#262626" color="#262626" >2</text>
<text x="541.90" y="140.50" font-size="9.4" text-anchor="end" font-weight="normal" fill="#262626" color="#262626" >3</text>
<text x="546.40" y="237.40" font-size="9.4" text-anchor="middle" font-weight="normal" fill="#262626" color="#262626" >-&#960;/<tspan font-style="italic">a</tspan></text>
<text x="607.10" y="237.40" font-size="9.4" text-anchor="middle" font-weight="normal" fill="#262626" color="#262626" >0</text>
<text x="669.30" y="237.40" font-size="9.4" text-anchor="middle" font-weight="normal" fill="#262626" color="#262626" >&#960;/<tspan font-style="italic">a</tspan></text>
<text x="607.10" y="247.60" font-size="9.4" text-anchor="middle" font-weight="normal" fill="#262626" color="#262626" >Wavenumber <tspan font-style="italic">k</tspan></text>
<g transform="translate(528.20,177.80) rotate(-90)"><text x="0" y="0" font-size="8.4" text-anchor="middle" fill="#262626" color="#262626" font-style="italic">&#969;</text><path d="M-1.50,-6.80 C-0.90,-8.40 -0.30,-7.50 0,-7.30 S0.90,-6.30 1.50,-7.90" fill="none" stroke="#262626" stroke-width="0.75"/></g>
<g clip-path="url(#clipc)">
<polygon points="20.00,339.92 170.00,233.80 170.00,273.66 20.00,376.04" fill="#fafcfe" />
<polygon points="20.00,340.98 170.00,234.97 170.00,272.49 20.00,374.98" fill="#ebf3fa" />
<polygon points="20.00,342.04 170.00,236.14 170.00,271.31 20.00,373.92" fill="#d6e6f4" />
<polygon points="20.00,343.10 170.00,237.32 170.00,270.14 20.00,372.85" fill="#bbd5ed" />
<polygon points="20.00,344.17 170.00,238.49 170.00,268.97 20.00,371.79" fill="#9dc3e4" />
<polygon points="20.00,345.23 170.00,239.66 170.00,267.80 20.00,370.73" fill="#7eb0dc" />
<polygon points="20.00,346.29 170.00,240.83 170.00,266.62 20.00,369.67" fill="#5f9dd4" />
<polygon points="20.00,347.35 170.00,242.01 170.00,265.45 20.00,368.60" fill="#448ccc" />
<polygon points="20.00,348.42 170.00,243.18 170.00,264.28 20.00,367.54" fill="#2d7ec6" />
<polygon points="20.00,349.48 170.00,244.35 170.00,263.11 20.00,366.48" fill="#1d74c2" />
<polygon points="20.00,350.54 170.00,245.52 170.00,261.94 20.00,365.42" fill="#1670c0" />
<polygon points="20.00,351.60 170.00,246.70 170.00,260.76 20.00,364.35" fill="#1670c0" />
<polygon points="20.00,352.67 170.00,247.87 170.00,259.59 20.00,363.29" fill="#1670c0" />
<polygon points="20.00,353.73 170.00,249.04 170.00,258.42 20.00,362.23" fill="#1670c0" />
<polygon points="20.00,354.79 170.00,250.21 170.00,257.25 20.00,361.17" fill="#1670c0" />
<polygon points="20.00,355.85 170.00,251.38 170.00,256.07 20.00,360.10" fill="#1670c0" />
<polygon points="20.00,356.92 170.00,252.56 170.00,254.90 20.00,359.04" fill="#1670c0" />
<line x1="32.20" y1="352.20" x2="142.62" y2="272.70" stroke="#2BE02B" stroke-width="1.1" stroke-dasharray="3.5,2.5"/>
</g>
<path d="M89.8,272.7 L89.8,300 C89.8,308 92.6,312 92.6,318 L92.6,372.3" fill="none" stroke="#EDB120" stroke-width="1.4"/>
<rect x="88.50" y="290.20" width="5.00" height="38.00" fill="none" stroke="#262626" stroke-width="0.9"/>
<rect x="106.4" y="315.1" width="40.50" height="46.60" fill="url(#gci)"/>
<line x1="106.40" y1="341.20" x2="146.90" y2="337.30" stroke="#2BE02B" stroke-width="1.1" stroke-dasharray="3.5,2.5"/>
<path d="M113.7,315.1 L113.7,326 C113.7,334 139.1,338 139.1,349 L139.1,361.7" fill="none" stroke="#EDB120" stroke-width="1.6"/>
<rect x="106.40" y="315.10" width="40.50" height="46.60" fill="none" stroke="#262626" stroke-width="0.9"/>
<text x="106.40" y="368.80" font-size="6.6" text-anchor="middle" font-weight="normal" fill="#262626" color="#262626" >131</text>
<text x="146.90" y="368.80" font-size="6.6" text-anchor="middle" font-weight="normal" fill="#262626" color="#262626" >142</text>
<text x="36.00" y="368.20" font-size="6.4" text-anchor="start" font-weight="normal" fill="#111" color="#111" ><tspan font-style="italic">&#948;</tspan><tspan font-size="4.6" dy="1.5">1,max</tspan><tspan dy="-1.5"> = 0.301</tspan></text>
<line x1="36.70" y1="362.60" x2="39.10" y2="362.60" stroke="#111" stroke-width="0.5" />
<rect x="32.20" y="272.70" width="121.80" height="99.60" fill="none" stroke="#262626" stroke-width="0.9"/>
<line x1="32.20" y1="306.00" x2="34.70" y2="306.00" stroke="#262626" stroke-width="0.8" />
<line x1="154.00" y1="306.00" x2="151.50" y2="306.00" stroke="#262626" stroke-width="0.8" />
<line x1="32.20" y1="339.30" x2="34.70" y2="339.30" stroke="#262626" stroke-width="0.8" />
<line x1="154.00" y1="339.30" x2="151.50" y2="339.30" stroke="#262626" stroke-width="0.8" />
<line x1="93.00" y1="372.30" x2="93.00" y2="369.80" stroke="#262626" stroke-width="0.8" />
<line x1="93.00" y1="272.70" x2="93.00" y2="275.20" stroke="#262626" stroke-width="0.8" />
<text x="32.20" y="383.80" font-size="9.4" text-anchor="middle" font-weight="normal" fill="#262626" color="#262626" >1</text>
<text x="93.00" y="383.80" font-size="9.4" text-anchor="middle" font-weight="normal" fill="#262626" color="#262626" >140</text>
<text x="154.00" y="383.80" font-size="9.4" text-anchor="middle" font-weight="normal" fill="#262626" color="#262626" >280</text>
<text x="27.90" y="375.50" font-size="9.4" text-anchor="end" font-weight="normal" fill="#262626" color="#262626" >0</text>
<text x="27.90" y="342.50" font-size="9.4" text-anchor="end" font-weight="normal" fill="#262626" color="#262626" >15</text>
<text x="27.90" y="309.20" font-size="9.4" text-anchor="end" font-weight="normal" fill="#262626" color="#262626" >30</text>
<text x="27.90" y="275.90" font-size="9.4" text-anchor="end" font-weight="normal" fill="#262626" color="#262626" >45</text>
<text x="93.10" y="395.80" font-size="9.4" text-anchor="middle" font-weight="normal" fill="#262626" color="#262626" >Rotor Index <tspan font-style="italic">n</tspan></text>
<text x="0.00" y="268.50" font-size="9.4" text-anchor="start" font-weight="bold" fill="#000" color="#000" >c</text>
<g transform="translate(9.60,323.70) rotate(-90)"><text x="0" y="0" font-size="9.4" text-anchor="middle" fill="#262626" color="#262626" font-style="italic">t</text><path d="M-1.80,-7.10 C-1.08,-8.70 -0.36,-7.80 0,-7.60 S1.08,-6.60 1.80,-8.20" fill="none" stroke="#262626" stroke-width="0.75"/></g>
<g clip-path="url(#clipf)">
<g clip-path="url(#clipfL)">
<polygon points="192.70,372.30 500.43,116.75 499.53,115.68" fill="#1670C0" fill-opacity="0.819" stroke="#1670C0" stroke-opacity="0.409" stroke-width="0.2"/>
<polygon points="192.70,372.30 499.53,115.68 498.21,114.11" fill="#1670C0" fill-opacity="0.792" stroke="#1670C0" stroke-opacity="0.396" stroke-width="0.2"/>
<polygon points="192.70,372.30 498.21,114.11 496.66,112.28" fill="#1670C0" fill-opacity="0.761" stroke="#1670C0" stroke-opacity="0.381" stroke-width="0.2"/>
<polygon points="192.70,372.30 496.66,112.28 494.93,110.27" fill="#1670C0" fill-opacity="0.730" stroke="#1670C0" stroke-opacity="0.365" stroke-width="0.2"/>
<polygon points="192.70,372.30 494.93,110.27 493.05,108.12" fill="#1670C0" fill-opacity="0.700" stroke="#1670C0" stroke-opacity="0.350" stroke-width="0.2"/>
<polygon points="192.70,372.30 493.05,108.12 491.03,105.84" fill="#1670C0" fill-opacity="0.671" stroke="#1670C0" stroke-opacity="0.335" stroke-width="0.2"/>
<polygon points="192.70,372.30 491.03,105.84 488.89,103.47" fill="#1670C0" fill-opacity="0.645" stroke="#1670C0" stroke-opacity="0.322" stroke-width="0.2"/>
<polygon points="192.70,372.30 488.89,103.47 486.64,101.01" fill="#1670C0" fill-opacity="0.620" stroke="#1670C0" stroke-opacity="0.310" stroke-width="0.2"/>
<polygon points="192.70,372.30 486.64,101.01 484.28,98.47" fill="#1670C0" fill-opacity="0.599" stroke="#1670C0" stroke-opacity="0.299" stroke-width="0.2"/>
<polygon points="192.70,372.30 484.28,98.47 481.82,95.87" fill="#1670C0" fill-opacity="0.579" stroke="#1670C0" stroke-opacity="0.289" stroke-width="0.2"/>
<polygon points="192.70,372.30 481.82,95.87 479.25,93.22" fill="#1670C0" fill-opacity="0.561" stroke="#1670C0" stroke-opacity="0.280" stroke-width="0.2"/>
<polygon points="192.70,372.30 479.25,93.22 476.59,90.51" fill="#1670C0" fill-opacity="0.544" stroke="#1670C0" stroke-opacity="0.272" stroke-width="0.2"/>
<polygon points="192.70,372.30 476.59,90.51 473.84,87.77" fill="#1670C0" fill-opacity="0.529" stroke="#1670C0" stroke-opacity="0.265" stroke-width="0.2"/>
<polygon points="192.70,372.30 473.84,87.77 471.00,84.98" fill="#1670C0" fill-opacity="0.516" stroke="#1670C0" stroke-opacity="0.258" stroke-width="0.2"/>
<polygon points="192.70,372.30 471.00,84.98 468.06,82.17" fill="#1670C0" fill-opacity="0.503" stroke="#1670C0" stroke-opacity="0.251" stroke-width="0.2"/>
<polygon points="192.70,372.30 468.06,82.17 465.04,79.33" fill="#1670C0" fill-opacity="0.491" stroke="#1670C0" stroke-opacity="0.246" stroke-width="0.2"/>
<polygon points="192.70,372.30 465.04,79.33 461.93,76.47" fill="#1670C0" fill-opacity="0.480" stroke="#1670C0" stroke-opacity="0.240" stroke-width="0.2"/>
<polygon points="192.70,372.30 461.93,76.47 458.73,73.59" fill="#1670C0" fill-opacity="0.470" stroke="#1670C0" stroke-opacity="0.235" stroke-width="0.2"/>
<polygon points="192.70,372.30 458.73,73.59 455.45,70.70" fill="#1670C0" fill-opacity="0.460" stroke="#1670C0" stroke-opacity="0.230" stroke-width="0.2"/>
<polygon points="192.70,372.30 455.45,70.70 452.08,67.80" fill="#1670C0" fill-opacity="0.450" stroke="#1670C0" stroke-opacity="0.225" stroke-width="0.2"/>
<polygon points="192.70,372.30 452.08,67.80 448.63,64.89" fill="#1670C0" fill-opacity="0.441" stroke="#1670C0" stroke-opacity="0.221" stroke-width="0.2"/>
<polygon points="192.70,372.30 448.63,64.89 445.10,61.99" fill="#1670C0" fill-opacity="0.432" stroke="#1670C0" stroke-opacity="0.216" stroke-width="0.2"/>
<polygon points="192.70,372.30 445.10,61.99 441.48,59.08" fill="#1670C0" fill-opacity="0.424" stroke="#1670C0" stroke-opacity="0.212" stroke-width="0.2"/>
<polygon points="192.70,372.30 441.48,59.08 437.79,56.18" fill="#1670C0" fill-opacity="0.416" stroke="#1670C0" stroke-opacity="0.208" stroke-width="0.2"/>
<polygon points="192.70,372.30 437.79,56.18 434.01,53.28" fill="#1670C0" fill-opacity="0.407" stroke="#1670C0" stroke-opacity="0.204" stroke-width="0.2"/>
<polygon points="192.70,372.30 434.01,53.28 430.15,50.40" fill="#1670C0" fill-opacity="0.399" stroke="#1670C0" stroke-opacity="0.200" stroke-width="0.2"/>
<polygon points="192.70,372.30 430.15,50.40 426.21,47.53" fill="#1670C0" fill-opacity="0.392" stroke="#1670C0" stroke-opacity="0.196" stroke-width="0.2"/>
<polygon points="192.70,372.30 426.21,47.53 422.19,44.68" fill="#1670C0" fill-opacity="0.384" stroke="#1670C0" stroke-opacity="0.192" stroke-width="0.2"/>
<polygon points="192.70,372.30 422.19,44.68 418.10,41.85" fill="#1670C0" fill-opacity="0.376" stroke="#1670C0" stroke-opacity="0.188" stroke-width="0.2"/>
<polygon points="192.70,372.30 418.10,41.85 413.92,39.04" fill="#1670C0" fill-opacity="0.369" stroke="#1670C0" stroke-opacity="0.184" stroke-width="0.2"/>
<polygon points="192.70,372.30 413.92,39.04 409.67,36.26" fill="#1670C0" fill-opacity="0.361" stroke="#1670C0" stroke-opacity="0.181" stroke-width="0.2"/>
<polygon points="192.70,372.30 409.67,36.26 405.34,33.50" fill="#1670C0" fill-opacity="0.354" stroke="#1670C0" stroke-opacity="0.177" stroke-width="0.2"/>
<polygon points="192.70,372.30 405.34,33.50 400.94,30.78" fill="#1670C0" fill-opacity="0.347" stroke="#1670C0" stroke-opacity="0.173" stroke-width="0.2"/>
<polygon points="192.70,372.30 400.94,30.78 396.46,28.09" fill="#1670C0" fill-opacity="0.339" stroke="#1670C0" stroke-opacity="0.170" stroke-width="0.2"/>
<polygon points="192.70,372.30 396.46,28.09 391.90,25.43" fill="#1670C0" fill-opacity="0.332" stroke="#1670C0" stroke-opacity="0.166" stroke-width="0.2"/>
<polygon points="192.70,372.30 391.90,25.43 387.27,22.81" fill="#1670C0" fill-opacity="0.325" stroke="#1670C0" stroke-opacity="0.163" stroke-width="0.2"/>
<polygon points="192.70,372.30 387.27,22.81 382.57,20.23" fill="#1670C0" fill-opacity="0.319" stroke="#1670C0" stroke-opacity="0.159" stroke-width="0.2"/>
<polygon points="192.70,372.30 382.57,20.23 377.79,17.70" fill="#1670C0" fill-opacity="0.312" stroke="#1670C0" stroke-opacity="0.156" stroke-width="0.2"/>
<polygon points="192.70,372.30 377.79,17.70 372.94,15.21" fill="#1670C0" fill-opacity="0.305" stroke="#1670C0" stroke-opacity="0.153" stroke-width="0.2"/>
<polygon points="192.70,372.30 372.94,15.21 368.02,12.77" fill="#1670C0" fill-opacity="0.299" stroke="#1670C0" stroke-opacity="0.149" stroke-width="0.2"/>
<polygon points="192.70,372.30 368.02,12.77 363.03,10.38" fill="#1670C0" fill-opacity="0.292" stroke="#1670C0" stroke-opacity="0.146" stroke-width="0.2"/>
<polygon points="192.70,372.30 363.03,10.38 357.97,8.04" fill="#1670C0" fill-opacity="0.286" stroke="#1670C0" stroke-opacity="0.143" stroke-width="0.2"/>
<polygon points="192.70,372.30 357.97,8.04 352.84,5.76" fill="#1670C0" fill-opacity="0.279" stroke="#1670C0" stroke-opacity="0.140" stroke-width="0.2"/>
<polygon points="192.70,372.30 352.84,5.76 347.65,3.53" fill="#1670C0" fill-opacity="0.273" stroke="#1670C0" stroke-opacity="0.137" stroke-width="0.2"/>
<polygon points="192.70,372.30 347.65,3.53 342.38,1.36" fill="#1670C0" fill-opacity="0.267" stroke="#1670C0" stroke-opacity="0.134" stroke-width="0.2"/>
<polygon points="192.70,372.30 342.38,1.36 337.05,-0.74" fill="#1670C0" fill-opacity="0.261" stroke="#1670C0" stroke-opacity="0.131" stroke-width="0.2"/>
<polygon points="192.70,372.30 337.05,-0.74 331.66,-2.79" fill="#1670C0" fill-opacity="0.255" stroke="#1670C0" stroke-opacity="0.128" stroke-width="0.2"/>
<polygon points="192.70,372.30 331.66,-2.79 326.20,-4.76" fill="#1670C0" fill-opacity="0.249" stroke="#1670C0" stroke-opacity="0.125" stroke-width="0.2"/>
<polygon points="192.70,372.30 326.20,-4.76 320.68,-6.67" fill="#1670C0" fill-opacity="0.244" stroke="#1670C0" stroke-opacity="0.122" stroke-width="0.2"/>
<polygon points="192.70,372.30 320.68,-6.67 315.10,-8.51" fill="#1670C0" fill-opacity="0.238" stroke="#1670C0" stroke-opacity="0.119" stroke-width="0.2"/>
<polygon points="192.70,372.30 315.10,-8.51 309.46,-10.28" fill="#1670C0" fill-opacity="0.233" stroke="#1670C0" stroke-opacity="0.116" stroke-width="0.2"/>
<polygon points="192.70,372.30 309.46,-10.28 303.76,-11.97" fill="#1670C0" fill-opacity="0.227" stroke="#1670C0" stroke-opacity="0.114" stroke-width="0.2"/>
<polygon points="192.70,372.30 303.76,-11.97 298.00,-13.59" fill="#1670C0" fill-opacity="0.222" stroke="#1670C0" stroke-opacity="0.111" stroke-width="0.2"/>
<polygon points="192.70,372.30 298.00,-13.59 292.19,-15.13" fill="#1670C0" fill-opacity="0.217" stroke="#1670C0" stroke-opacity="0.108" stroke-width="0.2"/>
<polygon points="192.70,372.30 292.19,-15.13 286.32,-16.59" fill="#1670C0" fill-opacity="0.211" stroke="#1670C0" stroke-opacity="0.106" stroke-width="0.2"/>
<polygon points="192.70,372.30 286.32,-16.59 280.39,-17.97" fill="#1670C0" fill-opacity="0.206" stroke="#1670C0" stroke-opacity="0.103" stroke-width="0.2"/>
<polygon points="192.70,372.30 280.39,-17.97 274.42,-19.26" fill="#1670C0" fill-opacity="0.201" stroke="#1670C0" stroke-opacity="0.101" stroke-width="0.2"/>
<polygon points="192.70,372.30 274.42,-19.26 268.39,-20.47" fill="#1670C0" fill-opacity="0.197" stroke="#1670C0" stroke-opacity="0.098" stroke-width="0.2"/>
<polygon points="192.70,372.30 268.39,-20.47 262.31,-21.60" fill="#1670C0" fill-opacity="0.192" stroke="#1670C0" stroke-opacity="0.096" stroke-width="0.2"/>
<polygon points="192.70,372.30 262.31,-21.60 256.19,-22.63" fill="#1670C0" fill-opacity="0.187" stroke="#1670C0" stroke-opacity="0.094" stroke-width="0.2"/>
<polygon points="192.70,372.30 256.19,-22.63 250.02,-23.57" fill="#1670C0" fill-opacity="0.183" stroke="#1670C0" stroke-opacity="0.091" stroke-width="0.2"/>
<polygon points="192.70,372.30 250.02,-23.57 243.81,-24.42" fill="#1670C0" fill-opacity="0.178" stroke="#1670C0" stroke-opacity="0.089" stroke-width="0.2"/>
<polygon points="192.70,372.30 243.81,-24.42 237.55,-25.18" fill="#1670C0" fill-opacity="0.174" stroke="#1670C0" stroke-opacity="0.087" stroke-width="0.2"/>
<polygon points="192.70,372.30 237.55,-25.18 231.25,-25.84" fill="#1670C0" fill-opacity="0.169" stroke="#1670C0" stroke-opacity="0.085" stroke-width="0.2"/>
<polygon points="192.70,372.30 231.25,-25.84 224.91,-26.40" fill="#1670C0" fill-opacity="0.165" stroke="#1670C0" stroke-opacity="0.083" stroke-width="0.2"/>
<polygon points="192.70,372.30 224.91,-26.40 218.54,-26.86" fill="#1670C0" fill-opacity="0.161" stroke="#1670C0" stroke-opacity="0.081" stroke-width="0.2"/>
<polygon points="192.70,372.30 218.54,-26.86 212.13,-27.23" fill="#1670C0" fill-opacity="0.157" stroke="#1670C0" stroke-opacity="0.078" stroke-width="0.2"/>
<polygon points="192.70,372.30 212.13,-27.23 205.68,-27.49" fill="#1670C0" fill-opacity="0.153" stroke="#1670C0" stroke-opacity="0.077" stroke-width="0.2"/>
<polygon points="192.70,372.30 205.68,-27.49 199.21,-27.65" fill="#1670C0" fill-opacity="0.149" stroke="#1670C0" stroke-opacity="0.075" stroke-width="0.2"/>
<polygon points="192.70,372.30 199.21,-27.65 192.70,-27.70" fill="#1670C0" fill-opacity="0.145" stroke="#1670C0" stroke-opacity="0.073" stroke-width="0.2"/>
<polygon points="191.7,271.4 203,271.4 252.5,323 191.7,352" fill="url(#gfw)"/>
</g>
<g clip-path="url(#clipfR)">
<polygon points="192.70,372.30 500.43,116.75 499.53,115.68" fill="#1670C0" fill-opacity="0.759" stroke="#1670C0" stroke-opacity="0.380" stroke-width="0.2"/>
<polygon points="192.70,372.30 499.53,115.68 498.21,114.11" fill="#1670C0" fill-opacity="0.735" stroke="#1670C0" stroke-opacity="0.367" stroke-width="0.2"/>
<polygon points="192.70,372.30 498.21,114.11 496.66,112.28" fill="#1670C0" fill-opacity="0.706" stroke="#1670C0" stroke-opacity="0.353" stroke-width="0.2"/>
<polygon points="192.70,372.30 496.66,112.28 494.93,110.27" fill="#1670C0" fill-opacity="0.677" stroke="#1670C0" stroke-opacity="0.339" stroke-width="0.2"/>
<polygon points="192.70,372.30 494.93,110.27 493.05,108.12" fill="#1670C0" fill-opacity="0.650" stroke="#1670C0" stroke-opacity="0.325" stroke-width="0.2"/>
<polygon points="192.70,372.30 493.05,108.12 491.03,105.84" fill="#1670C0" fill-opacity="0.624" stroke="#1670C0" stroke-opacity="0.312" stroke-width="0.2"/>
<polygon points="192.70,372.30 491.03,105.84 488.89,103.47" fill="#1670C0" fill-opacity="0.601" stroke="#1670C0" stroke-opacity="0.300" stroke-width="0.2"/>
<polygon points="192.70,372.30 488.89,103.47 486.64,101.01" fill="#1670C0" fill-opacity="0.580" stroke="#1670C0" stroke-opacity="0.290" stroke-width="0.2"/>
<polygon points="192.70,372.30 486.64,101.01 484.28,98.47" fill="#1670C0" fill-opacity="0.561" stroke="#1670C0" stroke-opacity="0.281" stroke-width="0.2"/>
<polygon points="192.70,372.30 484.28,98.47 481.82,95.87" fill="#1670C0" fill-opacity="0.545" stroke="#1670C0" stroke-opacity="0.272" stroke-width="0.2"/>
<polygon points="192.70,372.30 481.82,95.87 479.25,93.22" fill="#1670C0" fill-opacity="0.530" stroke="#1670C0" stroke-opacity="0.265" stroke-width="0.2"/>
<polygon points="192.70,372.30 479.25,93.22 476.59,90.51" fill="#1670C0" fill-opacity="0.517" stroke="#1670C0" stroke-opacity="0.258" stroke-width="0.2"/>
<polygon points="192.70,372.30 476.59,90.51 473.84,87.77" fill="#1670C0" fill-opacity="0.505" stroke="#1670C0" stroke-opacity="0.253" stroke-width="0.2"/>
<polygon points="192.70,372.30 473.84,87.77 471.00,84.98" fill="#1670C0" fill-opacity="0.495" stroke="#1670C0" stroke-opacity="0.247" stroke-width="0.2"/>
<polygon points="192.70,372.30 471.00,84.98 468.06,82.17" fill="#1670C0" fill-opacity="0.485" stroke="#1670C0" stroke-opacity="0.243" stroke-width="0.2"/>
<polygon points="192.70,372.30 468.06,82.17 465.04,79.33" fill="#1670C0" fill-opacity="0.477" stroke="#1670C0" stroke-opacity="0.238" stroke-width="0.2"/>
<polygon points="192.70,372.30 465.04,79.33 461.93,76.47" fill="#1670C0" fill-opacity="0.469" stroke="#1670C0" stroke-opacity="0.235" stroke-width="0.2"/>
<polygon points="192.70,372.30 461.93,76.47 458.73,73.59" fill="#1670C0" fill-opacity="0.462" stroke="#1670C0" stroke-opacity="0.231" stroke-width="0.2"/>
<polygon points="192.70,372.30 458.73,73.59 455.45,70.70" fill="#1670C0" fill-opacity="0.455" stroke="#1670C0" stroke-opacity="0.228" stroke-width="0.2"/>
<polygon points="192.70,372.30 455.45,70.70 452.08,67.80" fill="#1670C0" fill-opacity="0.449" stroke="#1670C0" stroke-opacity="0.225" stroke-width="0.2"/>
<polygon points="192.70,372.30 452.08,67.80 448.63,64.89" fill="#1670C0" fill-opacity="0.443" stroke="#1670C0" stroke-opacity="0.222" stroke-width="0.2"/>
<polygon points="192.70,372.30 448.63,64.89 445.10,61.99" fill="#1670C0" fill-opacity="0.437" stroke="#1670C0" stroke-opacity="0.219" stroke-width="0.2"/>
<polygon points="192.70,372.30 445.10,61.99 441.48,59.08" fill="#1670C0" fill-opacity="0.432" stroke="#1670C0" stroke-opacity="0.216" stroke-width="0.2"/>
<polygon points="192.70,372.30 441.48,59.08 437.79,56.18" fill="#1670C0" fill-opacity="0.426" stroke="#1670C0" stroke-opacity="0.213" stroke-width="0.2"/>
<polygon points="192.70,372.30 437.79,56.18 434.01,53.28" fill="#1670C0" fill-opacity="0.421" stroke="#1670C0" stroke-opacity="0.211" stroke-width="0.2"/>
<polygon points="192.70,372.30 434.01,53.28 430.15,50.40" fill="#1670C0" fill-opacity="0.416" stroke="#1670C0" stroke-opacity="0.208" stroke-width="0.2"/>
<polygon points="192.70,372.30 430.15,50.40 426.21,47.53" fill="#1670C0" fill-opacity="0.411" stroke="#1670C0" stroke-opacity="0.206" stroke-width="0.2"/>
<polygon points="192.70,372.30 426.21,47.53 422.19,44.68" fill="#1670C0" fill-opacity="0.406" stroke="#1670C0" stroke-opacity="0.203" stroke-width="0.2"/>
<polygon points="192.70,372.30 422.19,44.68 418.10,41.85" fill="#1670C0" fill-opacity="0.401" stroke="#1670C0" stroke-opacity="0.201" stroke-width="0.2"/>
<polygon points="192.70,372.30 418.10,41.85 413.92,39.04" fill="#1670C0" fill-opacity="0.396" stroke="#1670C0" stroke-opacity="0.198" stroke-width="0.2"/>
<polygon points="192.70,372.30 413.92,39.04 409.67,36.26" fill="#1670C0" fill-opacity="0.391" stroke="#1670C0" stroke-opacity="0.196" stroke-width="0.2"/>
<polygon points="192.70,372.30 409.67,36.26 405.34,33.50" fill="#1670C0" fill-opacity="0.387" stroke="#1670C0" stroke-opacity="0.193" stroke-width="0.2"/>
<polygon points="192.70,372.30 405.34,33.50 400.94,30.78" fill="#1670C0" fill-opacity="0.382" stroke="#1670C0" stroke-opacity="0.191" stroke-width="0.2"/>
<polygon points="192.70,372.30 400.94,30.78 396.46,28.09" fill="#1670C0" fill-opacity="0.377" stroke="#1670C0" stroke-opacity="0.189" stroke-width="0.2"/>
<polygon points="192.70,372.30 396.46,28.09 391.90,25.43" fill="#1670C0" fill-opacity="0.372" stroke="#1670C0" stroke-opacity="0.186" stroke-width="0.2"/>
<polygon points="192.70,372.30 391.90,25.43 387.27,22.81" fill="#1670C0" fill-opacity="0.368" stroke="#1670C0" stroke-opacity="0.184" stroke-width="0.2"/>
<polygon points="192.70,372.30 387.27,22.81 382.57,20.23" fill="#1670C0" fill-opacity="0.363" stroke="#1670C0" stroke-opacity="0.182" stroke-width="0.2"/>
<polygon points="192.70,372.30 382.57,20.23 377.79,17.70" fill="#1670C0" fill-opacity="0.358" stroke="#1670C0" stroke-opacity="0.179" stroke-width="0.2"/>
<polygon points="192.70,372.30 377.79,17.70 372.94,15.21" fill="#1670C0" fill-opacity="0.354" stroke="#1670C0" stroke-opacity="0.177" stroke-width="0.2"/>
<polygon points="192.70,372.30 372.94,15.21 368.02,12.77" fill="#1670C0" fill-opacity="0.349" stroke="#1670C0" stroke-opacity="0.175" stroke-width="0.2"/>
<polygon points="192.70,372.30 368.02,12.77 363.03,10.38" fill="#1670C0" fill-opacity="0.345" stroke="#1670C0" stroke-opacity="0.172" stroke-width="0.2"/>
<polygon points="192.70,372.30 363.03,10.38 357.97,8.04" fill="#1670C0" fill-opacity="0.340" stroke="#1670C0" stroke-opacity="0.170" stroke-width="0.2"/>
<polygon points="192.70,372.30 357.97,8.04 352.84,5.76" fill="#1670C0" fill-opacity="0.336" stroke="#1670C0" stroke-opacity="0.168" stroke-width="0.2"/>
<polygon points="192.70,372.30 352.84,5.76 347.65,3.53" fill="#1670C0" fill-opacity="0.331" stroke="#1670C0" stroke-opacity="0.166" stroke-width="0.2"/>
<polygon points="192.70,372.30 347.65,3.53 342.38,1.36" fill="#1670C0" fill-opacity="0.327" stroke="#1670C0" stroke-opacity="0.163" stroke-width="0.2"/>
<polygon points="192.70,372.30 342.38,1.36 337.05,-0.74" fill="#1670C0" fill-opacity="0.322" stroke="#1670C0" stroke-opacity="0.161" stroke-width="0.2"/>
<polygon points="192.70,372.30 337.05,-0.74 331.66,-2.79" fill="#1670C0" fill-opacity="0.318" stroke="#1670C0" stroke-opacity="0.159" stroke-width="0.2"/>
<polygon points="192.70,372.30 331.66,-2.79 326.20,-4.76" fill="#1670C0" fill-opacity="0.313" stroke="#1670C0" stroke-opacity="0.157" stroke-width="0.2"/>
<polygon points="192.70,372.30 326.20,-4.76 320.68,-6.67" fill="#1670C0" fill-opacity="0.309" stroke="#1670C0" stroke-opacity="0.155" stroke-width="0.2"/>
<polygon points="192.70,372.30 320.68,-6.67 315.10,-8.51" fill="#1670C0" fill-opacity="0.305" stroke="#1670C0" stroke-opacity="0.152" stroke-width="0.2"/>
<polygon points="192.70,372.30 315.10,-8.51 309.46,-10.28" fill="#1670C0" fill-opacity="0.301" stroke="#1670C0" stroke-opacity="0.150" stroke-width="0.2"/>
<polygon points="192.70,372.30 309.46,-10.28 303.76,-11.97" fill="#1670C0" fill-opacity="0.296" stroke="#1670C0" stroke-opacity="0.148" stroke-width="0.2"/>
<polygon points="192.70,372.30 303.76,-11.97 298.00,-13.59" fill="#1670C0" fill-opacity="0.292" stroke="#1670C0" stroke-opacity="0.146" stroke-width="0.2"/>
<polygon points="192.70,372.30 298.00,-13.59 292.19,-15.13" fill="#1670C0" fill-opacity="0.288" stroke="#1670C0" stroke-opacity="0.144" stroke-width="0.2"/>
<polygon points="192.70,372.30 292.19,-15.13 286.32,-16.59" fill="#1670C0" fill-opacity="0.284" stroke="#1670C0" stroke-opacity="0.142" stroke-width="0.2"/>
<polygon points="192.70,372.30 286.32,-16.59 280.39,-17.97" fill="#1670C0" fill-opacity="0.280" stroke="#1670C0" stroke-opacity="0.140" stroke-width="0.2"/>
<polygon points="192.70,372.30 280.39,-17.97 274.42,-19.26" fill="#1670C0" fill-opacity="0.276" stroke="#1670C0" stroke-opacity="0.138" stroke-width="0.2"/>
<polygon points="192.70,372.30 274.42,-19.26 268.39,-20.47" fill="#1670C0" fill-opacity="0.272" stroke="#1670C0" stroke-opacity="0.136" stroke-width="0.2"/>
<polygon points="192.70,372.30 268.39,-20.47 262.31,-21.60" fill="#1670C0" fill-opacity="0.268" stroke="#1670C0" stroke-opacity="0.134" stroke-width="0.2"/>
<polygon points="192.70,372.30 262.31,-21.60 256.19,-22.63" fill="#1670C0" fill-opacity="0.264" stroke="#1670C0" stroke-opacity="0.132" stroke-width="0.2"/>
<polygon points="192.70,372.30 256.19,-22.63 250.02,-23.57" fill="#1670C0" fill-opacity="0.260" stroke="#1670C0" stroke-opacity="0.130" stroke-width="0.2"/>
<polygon points="192.70,372.30 250.02,-23.57 243.81,-24.42" fill="#1670C0" fill-opacity="0.256" stroke="#1670C0" stroke-opacity="0.128" stroke-width="0.2"/>
<polygon points="192.70,372.30 243.81,-24.42 237.55,-25.18" fill="#1670C0" fill-opacity="0.252" stroke="#1670C0" stroke-opacity="0.126" stroke-width="0.2"/>
<polygon points="192.70,372.30 237.55,-25.18 231.25,-25.84" fill="#1670C0" fill-opacity="0.248" stroke="#1670C0" stroke-opacity="0.124" stroke-width="0.2"/>
<polygon points="192.70,372.30 231.25,-25.84 224.91,-26.40" fill="#1670C0" fill-opacity="0.245" stroke="#1670C0" stroke-opacity="0.122" stroke-width="0.2"/>
<polygon points="192.70,372.30 224.91,-26.40 218.54,-26.86" fill="#1670C0" fill-opacity="0.241" stroke="#1670C0" stroke-opacity="0.121" stroke-width="0.2"/>
<polygon points="192.70,372.30 218.54,-26.86 212.13,-27.23" fill="#1670C0" fill-opacity="0.237" stroke="#1670C0" stroke-opacity="0.119" stroke-width="0.2"/>
<polygon points="192.70,372.30 212.13,-27.23 205.68,-27.49" fill="#1670C0" fill-opacity="0.234" stroke="#1670C0" stroke-opacity="0.117" stroke-width="0.2"/>
<polygon points="192.70,372.30 205.68,-27.49 199.21,-27.65" fill="#1670C0" fill-opacity="0.230" stroke="#1670C0" stroke-opacity="0.115" stroke-width="0.2"/>
<polygon points="192.70,372.30 199.21,-27.65 192.70,-27.70" fill="#1670C0" fill-opacity="0.227" stroke="#1670C0" stroke-opacity="0.113" stroke-width="0.2"/>
</g>
<polygon points="252.50,321.50 99.29,192.94 102.45,189.27" fill="#1670C0" fill-opacity="0.108" stroke="#1670C0" stroke-opacity="0.054" stroke-width="0.2"/>
<polygon points="252.50,321.50 102.45,189.27 105.70,185.67" fill="#1670C0" fill-opacity="0.224" stroke="#1670C0" stroke-opacity="0.112" stroke-width="0.2"/>
<polygon points="252.50,321.50 105.70,185.67 109.04,182.15" fill="#1670C0" fill-opacity="0.298" stroke="#1670C0" stroke-opacity="0.149" stroke-width="0.2"/>
<polygon points="252.50,321.50 109.04,182.15 112.46,178.71" fill="#1670C0" fill-opacity="0.327" stroke="#1670C0" stroke-opacity="0.164" stroke-width="0.2"/>
<polygon points="252.50,321.50 112.46,178.71 115.96,175.36" fill="#1670C0" fill-opacity="0.316" stroke="#1670C0" stroke-opacity="0.158" stroke-width="0.2"/>
<polygon points="252.50,321.50 115.96,175.36 119.54,172.09" fill="#1670C0" fill-opacity="0.284" stroke="#1670C0" stroke-opacity="0.142" stroke-width="0.2"/>
<polygon points="252.50,321.50 119.54,172.09 123.20,168.92" fill="#1670C0" fill-opacity="0.249" stroke="#1670C0" stroke-opacity="0.125" stroke-width="0.2"/>
<polygon points="252.50,321.50 123.20,168.92 126.94,165.83" fill="#1670C0" fill-opacity="0.225" stroke="#1670C0" stroke-opacity="0.112" stroke-width="0.2"/>
<polygon points="252.50,321.50 126.94,165.83 130.75,162.83" fill="#1670C0" fill-opacity="0.211" stroke="#1670C0" stroke-opacity="0.106" stroke-width="0.2"/>
<polygon points="252.50,321.50 130.75,162.83 134.63,159.92" fill="#1670C0" fill-opacity="0.204" stroke="#1670C0" stroke-opacity="0.102" stroke-width="0.2"/>
<polygon points="252.50,321.50 134.63,159.92 138.58,157.12" fill="#1670C0" fill-opacity="0.200" stroke="#1670C0" stroke-opacity="0.100" stroke-width="0.2"/>
<polygon points="252.50,321.50 138.58,157.12 142.60,154.40" fill="#1670C0" fill-opacity="0.196" stroke="#1670C0" stroke-opacity="0.098" stroke-width="0.2"/>
<polygon points="252.50,321.50 142.60,154.40 146.68,151.79" fill="#1670C0" fill-opacity="0.193" stroke="#1670C0" stroke-opacity="0.097" stroke-width="0.2"/>
<polygon points="252.50,321.50 146.68,151.79 150.83,149.27" fill="#1670C0" fill-opacity="0.190" stroke="#1670C0" stroke-opacity="0.095" stroke-width="0.2"/>
<polygon points="252.50,321.50 150.83,149.27 155.03,146.86" fill="#1670C0" fill-opacity="0.187" stroke="#1670C0" stroke-opacity="0.093" stroke-width="0.2"/>
<polygon points="252.50,321.50 155.03,146.86 159.29,144.55" fill="#1670C0" fill-opacity="0.183" stroke="#1670C0" stroke-opacity="0.092" stroke-width="0.2"/>
<polygon points="252.50,321.50 159.29,144.55 163.61,142.34" fill="#1670C0" fill-opacity="0.180" stroke="#1670C0" stroke-opacity="0.090" stroke-width="0.2"/>
<polygon points="252.50,321.50 163.61,142.34 167.98,140.24" fill="#1670C0" fill-opacity="0.177" stroke="#1670C0" stroke-opacity="0.089" stroke-width="0.2"/>
<polygon points="252.50,321.50 167.98,140.24 172.39,138.24" fill="#1670C0" fill-opacity="0.174" stroke="#1670C0" stroke-opacity="0.087" stroke-width="0.2"/>
<polygon points="252.50,321.50 172.39,138.24 176.86,136.36" fill="#1670C0" fill-opacity="0.171" stroke="#1670C0" stroke-opacity="0.086" stroke-width="0.2"/>
<polygon points="252.50,321.50 176.86,136.36 181.37,134.58" fill="#1670C0" fill-opacity="0.168" stroke="#1670C0" stroke-opacity="0.084" stroke-width="0.2"/>
<polygon points="252.50,321.50 181.37,134.58 185.92,132.91" fill="#1670C0" fill-opacity="0.165" stroke="#1670C0" stroke-opacity="0.083" stroke-width="0.2"/>
<polygon points="252.50,321.50 185.92,132.91 190.51,131.35" fill="#1670C0" fill-opacity="0.162" stroke="#1670C0" stroke-opacity="0.081" stroke-width="0.2"/>
<polygon points="252.50,321.50 190.51,131.35 195.14,129.90" fill="#1670C0" fill-opacity="0.160" stroke="#1670C0" stroke-opacity="0.080" stroke-width="0.2"/>
<polygon points="252.50,321.50 195.14,129.90 199.80,128.57" fill="#1670C0" fill-opacity="0.157" stroke="#1670C0" stroke-opacity="0.078" stroke-width="0.2"/>
<polygon points="252.50,321.50 199.80,128.57 204.49,127.35" fill="#1670C0" fill-opacity="0.154" stroke="#1670C0" stroke-opacity="0.077" stroke-width="0.2"/>
<polygon points="252.50,321.50 204.49,127.35 209.21,126.24" fill="#1670C0" fill-opacity="0.152" stroke="#1670C0" stroke-opacity="0.076" stroke-width="0.2"/>
<polygon points="252.50,321.50 209.21,126.24 213.96,125.25" fill="#1670C0" fill-opacity="0.149" stroke="#1670C0" stroke-opacity="0.074" stroke-width="0.2"/>
<polygon points="252.50,321.50 213.96,125.25 218.73,124.37" fill="#1670C0" fill-opacity="0.146" stroke="#1670C0" stroke-opacity="0.073" stroke-width="0.2"/>
<polygon points="252.50,321.50 218.73,124.37 223.51,123.61" fill="#1670C0" fill-opacity="0.144" stroke="#1670C0" stroke-opacity="0.072" stroke-width="0.2"/>
<polygon points="252.50,321.50 223.51,123.61 228.32,122.97" fill="#1670C0" fill-opacity="0.141" stroke="#1670C0" stroke-opacity="0.071" stroke-width="0.2"/>
<polygon points="252.50,321.50 228.32,122.97 233.14,122.44" fill="#1670C0" fill-opacity="0.139" stroke="#1670C0" stroke-opacity="0.069" stroke-width="0.2"/>
<polygon points="252.50,321.50 233.14,122.44 237.97,122.03" fill="#1670C0" fill-opacity="0.137" stroke="#1670C0" stroke-opacity="0.068" stroke-width="0.2"/>
<polygon points="252.50,321.50 237.97,122.03 242.81,121.73" fill="#1670C0" fill-opacity="0.134" stroke="#1670C0" stroke-opacity="0.067" stroke-width="0.2"/>
<polygon points="252.50,321.50 242.81,121.73 247.65,121.56" fill="#1670C0" fill-opacity="0.132" stroke="#1670C0" stroke-opacity="0.066" stroke-width="0.2"/>
<polygon points="252.50,321.50 247.65,121.56 252.50,121.50" fill="#1670C0" fill-opacity="0.130" stroke="#1670C0" stroke-opacity="0.065" stroke-width="0.2"/>
<polygon points="252.50,321.50 252.50,121.50 259.04,121.61" fill="#1670C0" fill-opacity="0.252" stroke="#1670C0" stroke-opacity="0.126" stroke-width="0.2"/>
<polygon points="252.50,321.50 259.04,121.61 265.58,121.93" fill="#1670C0" fill-opacity="0.237" stroke="#1670C0" stroke-opacity="0.118" stroke-width="0.2"/>
<polygon points="252.50,321.50 265.58,121.93 272.10,122.46" fill="#1670C0" fill-opacity="0.222" stroke="#1670C0" stroke-opacity="0.111" stroke-width="0.2"/>
<polygon points="252.50,321.50 272.10,122.46 278.61,123.21" fill="#1670C0" fill-opacity="0.209" stroke="#1670C0" stroke-opacity="0.105" stroke-width="0.2"/>
<polygon points="252.50,321.50 278.61,123.21 285.08,124.17" fill="#1670C0" fill-opacity="0.196" stroke="#1670C0" stroke-opacity="0.098" stroke-width="0.2"/>
<polygon points="252.50,321.50 285.08,124.17 291.52,125.34" fill="#1670C0" fill-opacity="0.184" stroke="#1670C0" stroke-opacity="0.092" stroke-width="0.2"/>
<polygon points="252.50,321.50 291.52,125.34 297.92,126.72" fill="#1670C0" fill-opacity="0.173" stroke="#1670C0" stroke-opacity="0.087" stroke-width="0.2"/>
<polygon points="252.50,321.50 297.92,126.72 304.26,128.31" fill="#1670C0" fill-opacity="0.163" stroke="#1670C0" stroke-opacity="0.081" stroke-width="0.2"/>
<polygon points="252.50,321.50 304.26,128.31 310.56,130.11" fill="#1670C0" fill-opacity="0.153" stroke="#1670C0" stroke-opacity="0.076" stroke-width="0.2"/>
<polygon points="252.50,321.50 310.56,130.11 316.79,132.11" fill="#1670C0" fill-opacity="0.144" stroke="#1670C0" stroke-opacity="0.072" stroke-width="0.2"/>
<polygon points="252.50,321.50 316.79,132.11 322.95,134.32" fill="#1670C0" fill-opacity="0.135" stroke="#1670C0" stroke-opacity="0.067" stroke-width="0.2"/>
<polygon points="252.50,321.50 322.95,134.32 329.04,136.72" fill="#1670C0" fill-opacity="0.127" stroke="#1670C0" stroke-opacity="0.063" stroke-width="0.2"/>
<polygon points="252.50,321.50 329.04,136.72 335.04,139.33" fill="#1670C0" fill-opacity="0.119" stroke="#1670C0" stroke-opacity="0.060" stroke-width="0.2"/>
<polygon points="252.50,321.50 335.04,139.33 340.96,142.13" fill="#1670C0" fill-opacity="0.112" stroke="#1670C0" stroke-opacity="0.056" stroke-width="0.2"/>
<polygon points="252.50,321.50 340.96,142.13 346.78,145.12" fill="#1670C0" fill-opacity="0.105" stroke="#1670C0" stroke-opacity="0.053" stroke-width="0.2"/>
<polygon points="252.50,321.50 346.78,145.12 352.50,148.29" fill="#1670C0" fill-opacity="0.099" stroke="#1670C0" stroke-opacity="0.049" stroke-width="0.2"/>
<polygon points="252.50,321.50 352.50,148.29 358.11,151.66" fill="#1670C0" fill-opacity="0.093" stroke="#1670C0" stroke-opacity="0.046" stroke-width="0.2"/>
<polygon points="252.50,321.50 358.11,151.66 363.61,155.21" fill="#1670C0" fill-opacity="0.087" stroke="#1670C0" stroke-opacity="0.044" stroke-width="0.2"/>
<polygon points="252.50,321.50 363.61,155.21 369.00,158.93" fill="#1670C0" fill-opacity="0.082" stroke="#1670C0" stroke-opacity="0.041" stroke-width="0.2"/>
<polygon points="252.50,321.50 369.00,158.93 374.25,162.83" fill="#1670C0" fill-opacity="0.077" stroke="#1670C0" stroke-opacity="0.038" stroke-width="0.2"/>
<polygon points="252.50,321.50 374.25,162.83 379.38,166.90" fill="#1670C0" fill-opacity="0.072" stroke="#1670C0" stroke-opacity="0.036" stroke-width="0.2"/>
<polygon points="252.50,321.50 379.38,166.90 384.37,171.13" fill="#1670C0" fill-opacity="0.068" stroke="#1670C0" stroke-opacity="0.034" stroke-width="0.2"/>
<polygon points="252.50,321.50 384.37,171.13 389.22,175.53" fill="#1670C0" fill-opacity="0.064" stroke="#1670C0" stroke-opacity="0.032" stroke-width="0.2"/>
<polygon points="252.50,321.50 389.22,175.53 393.92,180.08" fill="#1670C0" fill-opacity="0.060" stroke="#1670C0" stroke-opacity="0.030" stroke-width="0.2"/>
<line x1="192.70" y1="372.30" x2="390.31" y2="24.52" stroke="#ffffff" stroke-width="0.6" stroke-opacity="0.34"/>
<line x1="192.70" y1="372.30" x2="358.18" y2="8.13" stroke="#ffffff" stroke-width="0.6" stroke-opacity="0.39"/>
<line x1="192.70" y1="372.30" x2="368.65" y2="13.08" stroke="#ffffff" stroke-width="0.6" stroke-opacity="0.38"/>
<line x1="192.70" y1="372.30" x2="487.25" y2="101.67" stroke="#ffffff" stroke-width="0.6" stroke-opacity="0.27"/>
<line x1="192.70" y1="372.30" x2="329.46" y2="-3.60" stroke="#ffffff" stroke-width="0.6" stroke-opacity="0.31"/>
<line x1="192.70" y1="372.30" x2="337.78" y2="-0.46" stroke="#ffffff" stroke-width="0.6" stroke-opacity="0.18"/>
<line x1="192.70" y1="372.30" x2="417.65" y2="41.55" stroke="#ffffff" stroke-width="0.6" stroke-opacity="0.21"/>
<line x1="192.70" y1="372.30" x2="404.55" y2="33.01" stroke="#ffffff" stroke-width="0.6" stroke-opacity="0.29"/>
<line x1="192.70" y1="372.30" x2="489.49" y2="104.13" stroke="#ffffff" stroke-width="0.6" stroke-opacity="0.20"/>
<line x1="192.70" y1="372.30" x2="449.33" y2="65.47" stroke="#ffffff" stroke-width="0.6" stroke-opacity="0.38"/>
<line x1="192.70" y1="372.30" x2="363.78" y2="10.73" stroke="#ffffff" stroke-width="0.6" stroke-opacity="0.19"/>
<line x1="192.70" y1="372.30" x2="357.81" y2="7.96" stroke="#ffffff" stroke-width="0.6" stroke-opacity="0.18"/>
<g clip-path="url(#clipfR)">
<line x1="252.50" y1="295.13" x2="314.38" y2="216.57" stroke="#ffffff" stroke-width="0.6" stroke-opacity="0.20"/>
<line x1="252.50" y1="282.43" x2="312.78" y2="202.64" stroke="#ffffff" stroke-width="0.6" stroke-opacity="0.26"/>
<line x1="252.50" y1="276.88" x2="299.12" y2="188.41" stroke="#ffffff" stroke-width="0.6" stroke-opacity="0.29"/>
<line x1="252.50" y1="277.93" x2="306.16" y2="193.54" stroke="#ffffff" stroke-width="0.6" stroke-opacity="0.40"/>
<line x1="252.50" y1="315.76" x2="297.63" y2="226.52" stroke="#ffffff" stroke-width="0.6" stroke-opacity="0.41"/>
<line x1="252.50" y1="277.67" x2="298.66" y2="188.96" stroke="#ffffff" stroke-width="0.6" stroke-opacity="0.29"/>
<line x1="252.50" y1="307.94" x2="313.62" y2="228.79" stroke="#ffffff" stroke-width="0.6" stroke-opacity="0.24"/>
<line x1="252.50" y1="322.74" x2="310.97" y2="241.62" stroke="#ffffff" stroke-width="0.6" stroke-opacity="0.38"/>
<line x1="252.50" y1="325.83" x2="303.27" y2="239.68" stroke="#ffffff" stroke-width="0.6" stroke-opacity="0.30"/>
<line x1="252.50" y1="310.50" x2="300.28" y2="222.65" stroke="#ffffff" stroke-width="0.6" stroke-opacity="0.34"/>
<line x1="252.50" y1="310.21" x2="307.35" y2="226.59" stroke="#ffffff" stroke-width="0.6" stroke-opacity="0.41"/>
<line x1="252.50" y1="323.15" x2="296.88" y2="233.54" stroke="#ffffff" stroke-width="0.6" stroke-opacity="0.21"/>
<line x1="252.50" y1="288.51" x2="299.71" y2="200.36" stroke="#ffffff" stroke-width="0.6" stroke-opacity="0.21"/>
<line x1="252.50" y1="286.61" x2="309.68" y2="204.57" stroke="#ffffff" stroke-width="0.6" stroke-opacity="0.37"/>
<line x1="252.50" y1="325.55" x2="315.90" y2="248.21" stroke="#ffffff" stroke-width="0.6" stroke-opacity="0.25"/>
<line x1="252.50" y1="278.24" x2="313.03" y2="198.64" stroke="#ffffff" stroke-width="0.6" stroke-opacity="0.43"/>
<line x1="252.50" y1="279.52" x2="297.61" y2="190.27" stroke="#ffffff" stroke-width="0.6" stroke-opacity="0.30"/>
<line x1="252.50" y1="308.26" x2="306.46" y2="224.07" stroke="#ffffff" stroke-width="0.6" stroke-opacity="0.43"/>
</g>
<line x1="246.87" y1="315.82" x2="111.68" y2="179.48" stroke="#ffffff" stroke-width="0.5" stroke-opacity="0.30"/>
<line x1="249.24" y1="314.20" x2="170.89" y2="138.91" stroke="#ffffff" stroke-width="0.5" stroke-opacity="0.32"/>
<line x1="246.66" y1="316.03" x2="106.47" y2="184.85" stroke="#ffffff" stroke-width="0.5" stroke-opacity="0.34"/>
<line x1="246.82" y1="315.87" x2="110.43" y2="180.73" stroke="#ffffff" stroke-width="0.5" stroke-opacity="0.22"/>
<line x1="248.54" y1="314.55" x2="153.48" y2="147.73" stroke="#ffffff" stroke-width="0.5" stroke-opacity="0.33"/>
<line x1="247.60" y1="315.18" x2="129.92" y2="163.47" stroke="#ffffff" stroke-width="0.5" stroke-opacity="0.33"/>
<line x1="248.30" y1="314.69" x2="147.57" y2="151.24" stroke="#ffffff" stroke-width="0.5" stroke-opacity="0.21"/>
<line x1="247.52" y1="315.24" x2="128.01" y2="164.97" stroke="#ffffff" stroke-width="0.5" stroke-opacity="0.19"/>
<line x1="246.78" y1="315.91" x2="109.47" y2="181.70" stroke="#ffffff" stroke-width="0.5" stroke-opacity="0.18"/>
<line x1="248.83" y1="314.39" x2="160.69" y2="143.82" stroke="#ffffff" stroke-width="0.5" stroke-opacity="0.35"/>
<line x1="247.03" y1="315.66" x2="115.71" y2="175.60" stroke="#ffffff" stroke-width="0.5" stroke-opacity="0.16"/>
<line x1="249.97" y1="313.91" x2="189.37" y2="131.72" stroke="#ffffff" stroke-width="0.5" stroke-opacity="0.26"/>
<line x1="247.82" y1="315.01" x2="135.44" y2="159.33" stroke="#ffffff" stroke-width="0.5" stroke-opacity="0.20"/>
<line x1="248.48" y1="314.58" x2="151.95" y2="148.61" stroke="#ffffff" stroke-width="0.5" stroke-opacity="0.32"/>
<path d="M218.5,272.4 C226,292 236,312 252.4,320.2 L252.5,272.4 Z" fill="#1670C0" fill-opacity="0.10"/>
<line x1="193.90" y1="372.30" x2="314.20" y2="272.40" stroke="#1670C0" stroke-width="1.6" stroke-opacity="0.45"/>
<line x1="192.70" y1="372.30" x2="313.00" y2="272.40" stroke="#2BE02B" stroke-width="1.1" stroke-dasharray="3.5,2.5"/>
</g>
<path d="M218.5,272.4 C226,292 236,312 252.4,320.2 L252.4,372.3" fill="none" stroke="#EDB120" stroke-width="1.4"/>
<rect x="271.5" y="332.4" width="8.5" height="29.0" fill="url(#gcb)" stroke="#222" stroke-width="0.8"/>
<text x="281.00" y="337.30" font-size="8.5" text-anchor="start" font-weight="normal" fill="#262626" color="#262626" >10<tspan font-size="6" dy="-3">0</tspan></text>
<text x="281.00" y="365.20" font-size="8.5" text-anchor="start" font-weight="normal" fill="#262626" color="#262626" >10<tspan font-size="6" dy="-3">-4</tspan></text>
<text x="295.20" y="350.00" font-size="9.2" text-anchor="start" font-weight="normal" fill="#262626" color="#262626" ><tspan font-style="italic">E&#771;</tspan><tspan font-size="7" dy="1.8" font-style="italic">n</tspan></text>
<text x="207.50" y="368.20" font-size="6.4" text-anchor="start" font-weight="normal" fill="#111" color="#111" ><tspan font-style="italic">&#948;</tspan><tspan font-size="4.6" dy="1.5">1,max</tspan><tspan dy="-1.5"> = 0.188</tspan></text>
<line x1="208.20" y1="362.60" x2="210.60" y2="362.60" stroke="#111" stroke-width="0.5" />
<rect x="192.70" y="272.40" width="120.30" height="99.90" fill="none" stroke="#262626" stroke-width="0.9"/>
<line x1="192.70" y1="343.20" x2="195.20" y2="343.20" stroke="#262626" stroke-width="0.8" />
<line x1="313.00" y1="343.20" x2="310.50" y2="343.20" stroke="#262626" stroke-width="0.8" />
<line x1="192.70" y1="314.20" x2="195.20" y2="314.20" stroke="#262626" stroke-width="0.8" />
<line x1="313.00" y1="314.20" x2="310.50" y2="314.20" stroke="#262626" stroke-width="0.8" />
<line x1="192.70" y1="285.10" x2="195.20" y2="285.10" stroke="#262626" stroke-width="0.8" />
<line x1="313.00" y1="285.10" x2="310.50" y2="285.10" stroke="#262626" stroke-width="0.8" />
<line x1="252.50" y1="372.30" x2="252.50" y2="369.80" stroke="#262626" stroke-width="0.8" />
<line x1="252.50" y1="272.40" x2="252.50" y2="274.90" stroke="#262626" stroke-width="0.8" />
<text x="192.70" y="383.80" font-size="9.4" text-anchor="middle" font-weight="normal" fill="#262626" color="#262626" >1</text>
<text x="252.50" y="383.80" font-size="9.4" text-anchor="middle" font-weight="normal" fill="#262626" color="#262626" >140</text>
<text x="313.00" y="383.80" font-size="9.4" text-anchor="middle" font-weight="normal" fill="#262626" color="#262626" >280</text>
<text x="188.40" y="375.50" font-size="9.4" text-anchor="end" font-weight="normal" fill="#262626" color="#262626" >0</text>
<text x="188.40" y="346.40" font-size="9.4" text-anchor="end" font-weight="normal" fill="#262626" color="#262626" >0.5</text>
<text x="188.40" y="317.40" font-size="9.4" text-anchor="end" font-weight="normal" fill="#262626" color="#262626" >1</text>
<text x="188.40" y="288.30" font-size="9.4" text-anchor="end" font-weight="normal" fill="#262626" color="#262626" >1.5</text>
<text x="252.85" y="395.80" font-size="9.4" text-anchor="middle" font-weight="normal" fill="#262626" color="#262626" >Rotor Index <tspan font-style="italic">n</tspan></text>
<text x="166.70" y="268.50" font-size="9.4" text-anchor="start" font-weight="bold" fill="#000" color="#000" >f</text>
<text x="191.70" y="269.30" font-size="9.4" text-anchor="start" font-weight="normal" fill="#262626" color="#262626" >&#215;10<tspan font-size="6.5" dy="-3">3</tspan></text>
<g clip-path="url(#clipi)">
<polygon points="409.50,316.28 471.60,272.80 471.60,271.80 405.50,271.80 409.50,305.00" fill="#1670C0" fill-opacity="0.22"/>
<polygon points="409.00,309.59 472.00,265.79 472.00,272.75 409.00,316.56" fill="#1670C0" fill-opacity="0.003"/>
<polygon points="409.00,309.86 472.00,266.06 472.00,272.49 409.00,316.29" fill="#1670C0" fill-opacity="0.009"/>
<polygon points="409.00,310.13 472.00,266.32 472.00,272.22 409.00,316.02" fill="#1670C0" fill-opacity="0.014"/>
<polygon points="409.00,310.40 472.00,266.59 472.00,271.95 409.00,315.75" fill="#1670C0" fill-opacity="0.018"/>
<polygon points="409.00,310.66 472.00,266.86 472.00,271.68 409.00,315.49" fill="#1670C0" fill-opacity="0.021"/>
<polygon points="409.00,310.93 472.00,267.13 472.00,271.41 409.00,315.22" fill="#1670C0" fill-opacity="0.024"/>
<polygon points="409.00,311.20 472.00,267.40 472.00,271.15 409.00,314.95" fill="#1670C0" fill-opacity="0.026"/>
<polygon points="409.00,311.47 472.00,267.66 472.00,270.88 409.00,314.68" fill="#1670C0" fill-opacity="0.026"/>
<polygon points="409.00,311.74 472.00,267.93 472.00,270.61 409.00,314.41" fill="#1670C0" fill-opacity="0.026"/>
<polygon points="409.00,312.00 472.00,268.20 472.00,270.34 409.00,314.15" fill="#1670C0" fill-opacity="0.024"/>
<polygon points="409.00,312.27 472.00,268.47 472.00,270.07 409.00,313.88" fill="#1670C0" fill-opacity="0.021"/>
<polygon points="409.00,312.54 472.00,268.74 472.00,269.81 409.00,313.61" fill="#1670C0" fill-opacity="0.017"/>
<polygon points="409.00,312.81 472.00,269.00 472.00,269.54 409.00,313.34" fill="#1670C0" fill-opacity="0.011"/>
<line x1="400.49" y1="324.24" x2="460.49" y2="261.24" stroke="#ffffff" stroke-width="0.9" stroke-opacity="0.40"/>
<line x1="404.38" y1="321.54" x2="464.38" y2="258.54" stroke="#ffffff" stroke-width="0.9" stroke-opacity="0.38"/>
<line x1="407.60" y1="319.30" x2="467.60" y2="256.30" stroke="#ffffff" stroke-width="0.9" stroke-opacity="0.48"/>
<line x1="410.29" y1="317.43" x2="470.29" y2="254.43" stroke="#ffffff" stroke-width="0.9" stroke-opacity="0.53"/>
<line x1="413.66" y1="315.09" x2="473.66" y2="252.09" stroke="#ffffff" stroke-width="0.9" stroke-opacity="0.50"/>
<line x1="417.10" y1="312.69" x2="477.10" y2="249.69" stroke="#ffffff" stroke-width="0.9" stroke-opacity="0.38"/>
<line x1="421.04" y1="309.96" x2="481.04" y2="246.96" stroke="#ffffff" stroke-width="0.9" stroke-opacity="0.64"/>
<line x1="423.99" y1="307.91" x2="483.99" y2="244.91" stroke="#ffffff" stroke-width="0.9" stroke-opacity="0.43"/>
<line x1="428.14" y1="305.02" x2="488.14" y2="242.02" stroke="#ffffff" stroke-width="0.9" stroke-opacity="0.68"/>
<line x1="431.47" y1="302.70" x2="491.47" y2="239.70" stroke="#ffffff" stroke-width="0.9" stroke-opacity="0.49"/>
<line x1="435.46" y1="299.92" x2="495.46" y2="236.92" stroke="#ffffff" stroke-width="0.9" stroke-opacity="0.37"/>
<line x1="438.69" y1="297.68" x2="498.69" y2="234.68" stroke="#ffffff" stroke-width="0.9" stroke-opacity="0.45"/>
<line x1="441.02" y1="296.06" x2="501.02" y2="233.06" stroke="#ffffff" stroke-width="0.9" stroke-opacity="0.39"/>
<line x1="444.66" y1="293.53" x2="504.66" y2="230.53" stroke="#ffffff" stroke-width="0.9" stroke-opacity="0.64"/>
<line x1="447.87" y1="291.30" x2="507.87" y2="228.30" stroke="#ffffff" stroke-width="0.9" stroke-opacity="0.55"/>
<line x1="451.96" y1="288.46" x2="511.96" y2="225.46" stroke="#ffffff" stroke-width="0.9" stroke-opacity="0.48"/>
<line x1="455.22" y1="286.19" x2="515.22" y2="223.19" stroke="#ffffff" stroke-width="0.9" stroke-opacity="0.37"/>
<line x1="457.89" y1="284.33" x2="517.89" y2="221.33" stroke="#ffffff" stroke-width="0.9" stroke-opacity="0.42"/>
<line x1="462.22" y1="281.32" x2="522.22" y2="218.32" stroke="#ffffff" stroke-width="0.9" stroke-opacity="0.50"/>
<line x1="465.07" y1="279.34" x2="525.07" y2="216.34" stroke="#ffffff" stroke-width="0.9" stroke-opacity="0.55"/>
<line x1="468.68" y1="276.83" x2="528.68" y2="213.83" stroke="#ffffff" stroke-width="0.9" stroke-opacity="0.45"/>
<line x1="472.59" y1="274.11" x2="532.59" y2="211.11" stroke="#ffffff" stroke-width="0.9" stroke-opacity="0.59"/>
<line x1="475.17" y1="272.32" x2="535.17" y2="209.32" stroke="#ffffff" stroke-width="0.9" stroke-opacity="0.55"/>
<line x1="478.99" y1="269.66" x2="538.99" y2="206.66" stroke="#ffffff" stroke-width="0.9" stroke-opacity="0.66"/>
<line x1="444.47" y1="291.66" x2="504.47" y2="231.66" stroke="#1670C0" stroke-width="0.7" stroke-opacity="0.21"/>
<line x1="457.01" y1="282.94" x2="517.01" y2="222.94" stroke="#1670C0" stroke-width="0.7" stroke-opacity="0.17"/>
<line x1="428.91" y1="302.48" x2="488.91" y2="242.48" stroke="#1670C0" stroke-width="0.7" stroke-opacity="0.30"/>
<line x1="415.60" y1="311.74" x2="475.60" y2="251.74" stroke="#1670C0" stroke-width="0.7" stroke-opacity="0.25"/>
<line x1="409.96" y1="315.66" x2="469.96" y2="255.66" stroke="#1670C0" stroke-width="0.7" stroke-opacity="0.28"/>
<line x1="446.23" y1="290.44" x2="506.23" y2="230.44" stroke="#1670C0" stroke-width="0.7" stroke-opacity="0.26"/>
<line x1="451.77" y1="286.58" x2="511.77" y2="226.58" stroke="#1670C0" stroke-width="0.7" stroke-opacity="0.21"/>
<line x1="442.76" y1="292.85" x2="502.76" y2="232.85" stroke="#1670C0" stroke-width="0.7" stroke-opacity="0.27"/>
<line x1="436.99" y1="296.86" x2="496.99" y2="236.86" stroke="#1670C0" stroke-width="0.7" stroke-opacity="0.24"/>
<line x1="450.00" y1="287.82" x2="510.00" y2="227.82" stroke="#1670C0" stroke-width="0.7" stroke-opacity="0.34"/>
<line x1="431.70" y1="300.54" x2="491.70" y2="240.54" stroke="#1670C0" stroke-width="0.7" stroke-opacity="0.28"/>
<line x1="411.03" y1="314.91" x2="471.03" y2="254.91" stroke="#1670C0" stroke-width="0.7" stroke-opacity="0.29"/>
<line x1="440.36" y1="294.52" x2="500.36" y2="234.52" stroke="#1670C0" stroke-width="0.7" stroke-opacity="0.35"/>
<line x1="449.10" y1="288.45" x2="509.10" y2="228.45" stroke="#1670C0" stroke-width="0.7" stroke-opacity="0.21"/>
<line x1="427.29" y1="303.61" x2="487.29" y2="243.61" stroke="#1670C0" stroke-width="0.7" stroke-opacity="0.28"/>
<line x1="409.13" y1="316.24" x2="469.13" y2="256.24" stroke="#1670C0" stroke-width="0.7" stroke-opacity="0.24"/>
<polygon points="362.00,271.80 406.70,307.00 408.50,300.00 400.00,271.80" fill="#1670C0" fill-opacity="0.12"/>
<line x1="364.34" y1="272.80" x2="406.50" y2="304.42" stroke="#1670C0" stroke-width="0.6" stroke-opacity="0.14"/>
<line x1="368.12" y1="272.80" x2="406.50" y2="301.59" stroke="#1670C0" stroke-width="0.6" stroke-opacity="0.24"/>
<line x1="372.26" y1="272.80" x2="406.50" y2="298.48" stroke="#1670C0" stroke-width="0.6" stroke-opacity="0.16"/>
<line x1="376.78" y1="272.80" x2="406.50" y2="295.09" stroke="#1670C0" stroke-width="0.6" stroke-opacity="0.25"/>
<line x1="380.16" y1="272.80" x2="406.50" y2="292.55" stroke="#1670C0" stroke-width="0.6" stroke-opacity="0.19"/>
<line x1="385.10" y1="272.80" x2="406.50" y2="288.85" stroke="#1670C0" stroke-width="0.6" stroke-opacity="0.25"/>
<line x1="389.64" y1="272.80" x2="406.50" y2="285.45" stroke="#1670C0" stroke-width="0.6" stroke-opacity="0.25"/>
<line x1="392.56" y1="272.80" x2="406.50" y2="283.26" stroke="#1670C0" stroke-width="0.6" stroke-opacity="0.18"/>
<line x1="361.50" y1="272.80" x2="406.70" y2="307.00" stroke="#fff" stroke-width="0.8" stroke-opacity="0.7"/>
<polygon points="340.00,252.04 408.00,305.85 408.00,322.39 340.00,289.26" fill="#1670C0" fill-opacity="0.014"/>
<polygon points="340.00,253.47 408.00,306.49 408.00,321.75 340.00,287.83" fill="#1670C0" fill-opacity="0.039"/>
<polygon points="340.00,254.90 408.00,307.12 408.00,321.12 340.00,286.40" fill="#1670C0" fill-opacity="0.061"/>
<polygon points="340.00,256.33 408.00,307.76 408.00,320.48 340.00,284.97" fill="#1670C0" fill-opacity="0.081"/>
<polygon points="340.00,257.77 408.00,308.39 408.00,319.85 340.00,283.54" fill="#1670C0" fill-opacity="0.099"/>
<polygon points="340.00,259.20 408.00,309.03 408.00,319.21 340.00,282.10" fill="#1670C0" fill-opacity="0.113"/>
<polygon points="340.00,260.63 408.00,309.67 408.00,318.57 340.00,280.67" fill="#1670C0" fill-opacity="0.124"/>
<polygon points="340.00,262.06 408.00,310.30 408.00,317.94 340.00,279.24" fill="#1670C0" fill-opacity="0.128"/>
<polygon points="340.00,263.49 408.00,310.94 408.00,317.30 340.00,277.81" fill="#1670C0" fill-opacity="0.120"/>
<polygon points="340.00,264.92 408.00,311.58 408.00,316.67 340.00,276.38" fill="#1670C0" fill-opacity="0.094"/>
<polygon points="340.00,266.36 408.00,312.21 408.00,316.03 340.00,274.95" fill="#1670C0" fill-opacity="0.043"/>
<polygon points="340.00,267.79 408.00,312.85 408.00,315.39 340.00,273.51" fill="#1670C0" fill-opacity="0.000"/>
<polygon points="340.00,336.24 409.00,309.08 409.00,317.32 340.00,370.49" fill="#1670C0" fill-opacity="0.014"/>
<polygon points="340.00,337.55 409.00,309.39 409.00,317.01 340.00,369.17" fill="#1670C0" fill-opacity="0.039"/>
<polygon points="340.00,338.87 409.00,309.71 409.00,316.69 340.00,367.85" fill="#1670C0" fill-opacity="0.061"/>
<polygon points="340.00,340.19 409.00,310.03 409.00,316.37 340.00,366.54" fill="#1670C0" fill-opacity="0.081"/>
<polygon points="340.00,341.51 409.00,310.34 409.00,316.05 340.00,365.22" fill="#1670C0" fill-opacity="0.099"/>
<polygon points="340.00,342.82 409.00,310.66 409.00,315.74 340.00,363.90" fill="#1670C0" fill-opacity="0.113"/>
<polygon points="340.00,344.14 409.00,310.98 409.00,315.42 340.00,362.58" fill="#1670C0" fill-opacity="0.124"/>
<polygon points="340.00,345.46 409.00,311.30 409.00,315.10 340.00,361.27" fill="#1670C0" fill-opacity="0.128"/>
<polygon points="340.00,346.77 409.00,311.61 409.00,314.78 340.00,359.95" fill="#1670C0" fill-opacity="0.120"/>
<polygon points="340.00,348.09 409.00,311.93 409.00,314.47 340.00,358.63" fill="#1670C0" fill-opacity="0.094"/>
<polygon points="340.00,349.41 409.00,312.25 409.00,314.15 340.00,357.31" fill="#1670C0" fill-opacity="0.043"/>
<polygon points="340.00,350.73 409.00,312.56 409.00,313.83 340.00,356.00" fill="#1670C0" fill-opacity="0.000"/>
<line x1="350.50" y1="357.00" x2="470.60" y2="273.50" stroke="#2BE02B" stroke-width="1.1" stroke-dasharray="3.5,2.5"/>
</g>
<path d="M405.5,272.8 L411.1,320 L411.1,372.3" fill="none" stroke="#EDB120" stroke-width="1.4"/>
<rect x="406.30" y="288.30" width="8.50" height="36.10" fill="none" stroke="#262626" stroke-width="0.9"/>
<g clip-path="url(#clipii)">
<rect x="421.8" y="313.6" width="41.50" height="47.50" fill="#fff"/>
<polygon points="421.80,313.60 428.70,313.60 442.40,349.90 442.40,361.10 421.80,361.10" fill="url(#gii)" />
<polygon points="425.00,313.60 428.70,313.60 442.40,349.90 438.00,349.90" fill="#1670C0" fill-opacity="0.3"/>
<polygon points="428.70,313.60 463.30,313.60 463.30,346.60 442.40,349.90" fill="#1670C0" fill-opacity="0.22"/>
<line x1="421.80" y1="316.75" x2="432.00" y2="316.75" stroke="#fff" stroke-width="1.1" stroke-opacity="0.49"/>
<line x1="421.80" y1="318.93" x2="433.20" y2="318.93" stroke="#fff" stroke-width="1.1" stroke-opacity="0.75"/>
<line x1="421.80" y1="322.42" x2="434.40" y2="322.42" stroke="#fff" stroke-width="1.1" stroke-opacity="0.49"/>
<line x1="421.80" y1="326.28" x2="435.60" y2="326.28" stroke="#fff" stroke-width="1.1" stroke-opacity="0.55"/>
<line x1="421.80" y1="329.87" x2="436.80" y2="329.87" stroke="#fff" stroke-width="1.1" stroke-opacity="0.52"/>
<line x1="421.80" y1="333.25" x2="438.00" y2="333.25" stroke="#fff" stroke-width="1.1" stroke-opacity="0.55"/>
<line x1="421.80" y1="336.12" x2="439.20" y2="336.12" stroke="#fff" stroke-width="1.1" stroke-opacity="0.73"/>
<line x1="421.80" y1="339.52" x2="440.40" y2="339.52" stroke="#fff" stroke-width="1.1" stroke-opacity="0.73"/>
<line x1="421.80" y1="342.85" x2="441.60" y2="342.85" stroke="#fff" stroke-width="1.1" stroke-opacity="0.46"/>
<line x1="421.80" y1="346.36" x2="442.80" y2="346.36" stroke="#fff" stroke-width="1.1" stroke-opacity="0.63"/>
<line x1="437.00" y1="347.53" x2="465.30" y2="342.53" stroke="#fff" stroke-width="1.0" stroke-opacity="0.46"/>
<line x1="437.00" y1="342.93" x2="465.30" y2="337.93" stroke="#fff" stroke-width="1.0" stroke-opacity="0.57"/>
<line x1="437.00" y1="338.99" x2="465.30" y2="333.99" stroke="#fff" stroke-width="1.0" stroke-opacity="0.63"/>
<line x1="437.00" y1="335.16" x2="465.30" y2="330.16" stroke="#fff" stroke-width="1.0" stroke-opacity="0.57"/>
<line x1="437.00" y1="331.75" x2="465.30" y2="326.75" stroke="#fff" stroke-width="1.0" stroke-opacity="0.58"/>
<line x1="437.00" y1="328.61" x2="465.30" y2="323.61" stroke="#fff" stroke-width="1.0" stroke-opacity="0.69"/>
<line x1="437.00" y1="324.73" x2="465.30" y2="319.73" stroke="#fff" stroke-width="1.0" stroke-opacity="0.63"/>
<line x1="437.00" y1="319.97" x2="465.30" y2="314.97" stroke="#fff" stroke-width="1.0" stroke-opacity="0.60"/>
<line x1="437.00" y1="317.39" x2="465.30" y2="312.39" stroke="#fff" stroke-width="1.0" stroke-opacity="0.65"/>
<rect x="434.5" y="350.2" width="1.2" height="1.2" fill="#fff" fill-opacity="0.45"/>
<rect x="422.7" y="354.4" width="1.2" height="1.2" fill="#fff" fill-opacity="0.45"/>
<rect x="422.4" y="359.1" width="1.2" height="1.2" fill="#fff" fill-opacity="0.45"/>
<rect x="431.4" y="354.2" width="1.2" height="1.2" fill="#fff" fill-opacity="0.45"/>
<rect x="429.6" y="355.9" width="1.2" height="1.2" fill="#fff" fill-opacity="0.45"/>
<rect x="439.2" y="351.7" width="1.2" height="1.2" fill="#fff" fill-opacity="0.45"/>
<rect x="428.9" y="355.0" width="1.2" height="1.2" fill="#fff" fill-opacity="0.45"/>
<rect x="427.4" y="355.1" width="1.2" height="1.2" fill="#fff" fill-opacity="0.45"/>
<rect x="432.1" y="353.2" width="1.2" height="1.2" fill="#fff" fill-opacity="0.45"/>
<rect x="434.6" y="354.3" width="1.2" height="1.2" fill="#fff" fill-opacity="0.45"/>
<rect x="423.5" y="360.0" width="1.2" height="1.2" fill="#fff" fill-opacity="0.45"/>
<rect x="428.6" y="353.2" width="1.2" height="1.2" fill="#fff" fill-opacity="0.45"/>
<rect x="429.5" y="359.2" width="1.2" height="1.2" fill="#fff" fill-opacity="0.45"/>
<rect x="439.9" y="354.1" width="1.2" height="1.2" fill="#fff" fill-opacity="0.45"/>
<line x1="421.80" y1="354.70" x2="463.30" y2="346.60" stroke="#2BE02B" stroke-width="1.1" stroke-dasharray="3.5,2.5"/>
</g>
<polyline points="428.70,313.60 428.70,318.14 430.41,318.14 430.41,322.68 432.12,322.68 432.12,327.21 433.84,327.21 433.84,331.75 435.55,331.75 435.55,336.29 437.26,336.29 437.26,340.82 438.97,340.82 438.97,345.36 440.69,345.36 440.69,349.90 442.40,349.90 442.40,361.10" fill="none" stroke="#EDB120" stroke-width="1.5" stroke-linejoin="round" />
<rect x="421.80" y="313.60" width="41.50" height="47.50" fill="none" stroke="#262626" stroke-width="0.9"/>
<text x="421.80" y="369.00" font-size="6.6" text-anchor="middle" font-weight="normal" fill="#262626" color="#262626" >130</text>
<text x="463.30" y="369.00" font-size="6.6" text-anchor="middle" font-weight="normal" fill="#262626" color="#262626" >150</text>
<text x="357.70" y="369.00" font-size="6.4" text-anchor="start" font-weight="normal" fill="#111" color="#111" ><tspan font-style="italic">&#948;</tspan><tspan font-size="4.6" dy="1.5">1,max</tspan><tspan dy="-1.5"> = 0.052</tspan></text>
<line x1="358.40" y1="363.40" x2="360.80" y2="363.40" stroke="#111" stroke-width="0.5" />
<rect x="350.50" y="272.80" width="120.10" height="99.50" fill="none" stroke="#262626" stroke-width="0.9"/>
<line x1="350.50" y1="322.80" x2="353.00" y2="322.80" stroke="#262626" stroke-width="0.8" />
<line x1="470.60" y1="322.80" x2="468.10" y2="322.80" stroke="#262626" stroke-width="0.8" />
<line x1="411.10" y1="372.30" x2="411.10" y2="369.80" stroke="#262626" stroke-width="0.8" />
<line x1="411.10" y1="272.80" x2="411.10" y2="275.30" stroke="#262626" stroke-width="0.8" />
<text x="350.50" y="383.80" font-size="9.4" text-anchor="middle" font-weight="normal" fill="#262626" color="#262626" >1</text>
<text x="411.10" y="383.80" font-size="9.4" text-anchor="middle" font-weight="normal" fill="#262626" color="#262626" >140</text>
<text x="470.60" y="383.80" font-size="9.4" text-anchor="middle" font-weight="normal" fill="#262626" color="#262626" >280</text>
<text x="346.20" y="375.50" font-size="9.4" text-anchor="end" font-weight="normal" fill="#262626" color="#262626" >0</text>
<text x="346.20" y="326.00" font-size="9.4" text-anchor="end" font-weight="normal" fill="#262626" color="#262626" >0.5</text>
<text x="346.20" y="276.00" font-size="9.4" text-anchor="end" font-weight="normal" fill="#262626" color="#262626" >1</text>
<text x="410.55" y="395.80" font-size="9.4" text-anchor="middle" font-weight="normal" fill="#262626" color="#262626" >Rotor Index <tspan font-style="italic">n</tspan></text>
<text x="325.60" y="268.50" font-size="9.4" text-anchor="start" font-weight="bold" fill="#000" color="#000" >i</text>
<text x="351.10" y="269.30" font-size="9.4" text-anchor="start" font-weight="normal" fill="#262626" color="#262626" >&#215;10<tspan font-size="6.5" dy="-3">2</tspan></text>
<g clip-path="url(#clipl)">
<polygon points="566.00,271.80 606.00,308.00 611.00,312.00 614.50,271.80" fill="#1670C0" fill-opacity="0.30"/>
<line x1="589.45" y1="272.80" x2="634.45" y2="314.65" stroke="#ffffff" stroke-width="0.6" stroke-opacity="0.45"/>
<line x1="575.82" y1="272.80" x2="620.82" y2="314.65" stroke="#ffffff" stroke-width="0.6" stroke-opacity="0.65"/>
<line x1="570.27" y1="272.80" x2="615.27" y2="314.65" stroke="#ffffff" stroke-width="0.6" stroke-opacity="0.50"/>
<line x1="607.73" y1="272.80" x2="652.73" y2="314.65" stroke="#ffffff" stroke-width="0.6" stroke-opacity="0.33"/>
<line x1="593.28" y1="272.80" x2="638.28" y2="314.65" stroke="#ffffff" stroke-width="0.6" stroke-opacity="0.55"/>
<line x1="571.72" y1="272.80" x2="616.72" y2="314.65" stroke="#ffffff" stroke-width="0.6" stroke-opacity="0.45"/>
<line x1="599.55" y1="272.80" x2="644.55" y2="314.65" stroke="#ffffff" stroke-width="0.6" stroke-opacity="0.48"/>
<line x1="600.45" y1="272.80" x2="645.45" y2="314.65" stroke="#ffffff" stroke-width="0.6" stroke-opacity="0.36"/>
<line x1="580.00" y1="272.80" x2="625.00" y2="314.65" stroke="#ffffff" stroke-width="0.6" stroke-opacity="0.34"/>
<line x1="591.26" y1="272.80" x2="636.26" y2="314.65" stroke="#ffffff" stroke-width="0.6" stroke-opacity="0.67"/>
<line x1="594.80" y1="272.80" x2="639.80" y2="314.65" stroke="#ffffff" stroke-width="0.6" stroke-opacity="0.61"/>
<line x1="586.11" y1="272.80" x2="631.11" y2="314.65" stroke="#ffffff" stroke-width="0.6" stroke-opacity="0.60"/>
<line x1="574.27" y1="272.80" x2="619.27" y2="314.65" stroke="#ffffff" stroke-width="0.6" stroke-opacity="0.42"/>
<line x1="598.32" y1="272.80" x2="643.32" y2="314.65" stroke="#ffffff" stroke-width="0.6" stroke-opacity="0.59"/>
<line x1="587.71" y1="272.80" x2="632.71" y2="314.65" stroke="#ffffff" stroke-width="0.6" stroke-opacity="0.34"/>
<line x1="581.20" y1="272.80" x2="626.20" y2="314.65" stroke="#ffffff" stroke-width="0.6" stroke-opacity="0.38"/>
<line x1="579.81" y1="272.80" x2="624.81" y2="314.65" stroke="#1670C0" stroke-width="0.5" stroke-opacity="0.44"/>
<line x1="576.38" y1="272.80" x2="621.38" y2="314.65" stroke="#1670C0" stroke-width="0.5" stroke-opacity="0.47"/>
<line x1="604.93" y1="272.80" x2="649.93" y2="314.65" stroke="#1670C0" stroke-width="0.5" stroke-opacity="0.22"/>
<line x1="583.91" y1="272.80" x2="628.91" y2="314.65" stroke="#1670C0" stroke-width="0.5" stroke-opacity="0.35"/>
<line x1="568.99" y1="272.80" x2="613.99" y2="314.65" stroke="#1670C0" stroke-width="0.5" stroke-opacity="0.33"/>
<line x1="606.07" y1="272.80" x2="651.07" y2="314.65" stroke="#1670C0" stroke-width="0.5" stroke-opacity="0.23"/>
<line x1="593.07" y1="272.80" x2="638.07" y2="314.65" stroke="#1670C0" stroke-width="0.5" stroke-opacity="0.24"/>
<line x1="592.31" y1="272.80" x2="637.31" y2="314.65" stroke="#1670C0" stroke-width="0.5" stroke-opacity="0.47"/>
<line x1="576.53" y1="272.80" x2="621.53" y2="314.65" stroke="#1670C0" stroke-width="0.5" stroke-opacity="0.20"/>
<line x1="571.51" y1="272.80" x2="616.51" y2="314.65" stroke="#1670C0" stroke-width="0.5" stroke-opacity="0.36"/>
<polygon points="608.00,320.39 665.80,272.17 665.80,271.80 613.50,271.80 610.50,306.00" fill="#1670C0" fill-opacity="0.24"/>
<line x1="609.00" y1="318.22" x2="676.93" y2="219.29" stroke="#ffffff" stroke-width="0.6" stroke-opacity="0.50"/>
<line x1="609.00" y1="314.87" x2="624.40" y2="195.86" stroke="#ffffff" stroke-width="0.6" stroke-opacity="0.46"/>
<line x1="609.00" y1="318.13" x2="641.75" y2="202.69" stroke="#ffffff" stroke-width="0.6" stroke-opacity="0.53"/>
<line x1="609.00" y1="312.98" x2="668.68" y2="208.87" stroke="#ffffff" stroke-width="0.6" stroke-opacity="0.68"/>
<line x1="609.00" y1="313.52" x2="675.01" y2="213.31" stroke="#ffffff" stroke-width="0.6" stroke-opacity="0.54"/>
<line x1="609.00" y1="316.38" x2="669.94" y2="213.01" stroke="#ffffff" stroke-width="0.6" stroke-opacity="0.70"/>
<line x1="609.00" y1="317.85" x2="619.59" y2="198.32" stroke="#ffffff" stroke-width="0.6" stroke-opacity="0.58"/>
<line x1="609.00" y1="316.70" x2="622.53" y2="197.46" stroke="#ffffff" stroke-width="0.6" stroke-opacity="0.54"/>
<line x1="609.00" y1="315.41" x2="675.60" y2="215.58" stroke="#ffffff" stroke-width="0.6" stroke-opacity="0.57"/>
<line x1="609.00" y1="311.32" x2="644.67" y2="196.74" stroke="#ffffff" stroke-width="0.6" stroke-opacity="0.33"/>
<line x1="609.00" y1="310.43" x2="658.92" y2="201.30" stroke="#ffffff" stroke-width="0.6" stroke-opacity="0.53"/>
<line x1="609.00" y1="315.04" x2="652.90" y2="203.36" stroke="#ffffff" stroke-width="0.6" stroke-opacity="0.69"/>
<line x1="609.00" y1="318.88" x2="645.62" y2="204.61" stroke="#ffffff" stroke-width="0.6" stroke-opacity="0.62"/>
<line x1="609.00" y1="314.73" x2="659.98" y2="206.10" stroke="#ffffff" stroke-width="0.6" stroke-opacity="0.39"/>
<line x1="609.00" y1="315.82" x2="653.33" y2="204.31" stroke="#ffffff" stroke-width="0.6" stroke-opacity="0.34"/>
<line x1="609.00" y1="318.04" x2="642.31" y2="202.75" stroke="#ffffff" stroke-width="0.6" stroke-opacity="0.61"/>
<line x1="609.00" y1="311.26" x2="676.52" y2="212.05" stroke="#ffffff" stroke-width="0.6" stroke-opacity="0.62"/>
<line x1="609.00" y1="311.97" x2="650.20" y2="199.27" stroke="#ffffff" stroke-width="0.6" stroke-opacity="0.40"/>
<line x1="609.00" y1="314.82" x2="635.73" y2="197.83" stroke="#ffffff" stroke-width="0.6" stroke-opacity="0.39"/>
<line x1="609.00" y1="315.06" x2="621.71" y2="195.73" stroke="#ffffff" stroke-width="0.6" stroke-opacity="0.45"/>
<line x1="609.00" y1="315.37" x2="628.19" y2="196.92" stroke="#ffffff" stroke-width="0.6" stroke-opacity="0.57"/>
<line x1="609.00" y1="310.63" x2="668.76" y2="206.57" stroke="#ffffff" stroke-width="0.6" stroke-opacity="0.40"/>
<line x1="609.00" y1="311.26" x2="695.29" y2="227.87" stroke="#1670C0" stroke-width="0.5" stroke-opacity="0.19"/>
<line x1="609.00" y1="311.18" x2="630.12" y2="193.05" stroke="#1670C0" stroke-width="0.5" stroke-opacity="0.30"/>
<line x1="609.00" y1="318.58" x2="697.51" y2="237.55" stroke="#1670C0" stroke-width="0.5" stroke-opacity="0.20"/>
<line x1="609.00" y1="314.17" x2="673.38" y2="212.91" stroke="#1670C0" stroke-width="0.5" stroke-opacity="0.39"/>
<line x1="609.00" y1="317.94" x2="675.79" y2="218.24" stroke="#1670C0" stroke-width="0.5" stroke-opacity="0.29"/>
<line x1="609.00" y1="318.37" x2="690.08" y2="229.91" stroke="#1670C0" stroke-width="0.5" stroke-opacity="0.29"/>
<line x1="609.00" y1="318.54" x2="650.36" y2="205.89" stroke="#1670C0" stroke-width="0.5" stroke-opacity="0.26"/>
<line x1="609.00" y1="312.95" x2="649.74" y2="200.08" stroke="#1670C0" stroke-width="0.5" stroke-opacity="0.25"/>
<line x1="609.00" y1="317.71" x2="635.00" y2="200.56" stroke="#1670C0" stroke-width="0.5" stroke-opacity="0.33"/>
<line x1="609.00" y1="312.02" x2="644.35" y2="197.35" stroke="#1670C0" stroke-width="0.5" stroke-opacity="0.27"/>
<line x1="609.00" y1="318.68" x2="692.41" y2="232.40" stroke="#1670C0" stroke-width="0.5" stroke-opacity="0.28"/>
<line x1="609.00" y1="314.03" x2="687.83" y2="223.56" stroke="#1670C0" stroke-width="0.5" stroke-opacity="0.17"/>
<polygon points="540.00,243.13 606.00,304.78 606.00,323.46 540.00,262.83" fill="#1670C0" fill-opacity="0.026"/>
<polygon points="540.00,243.89 606.00,305.50 606.00,322.74 540.00,262.07" fill="#1670C0" fill-opacity="0.071"/>
<polygon points="540.00,244.65 606.00,306.21 606.00,322.02 540.00,261.31" fill="#1670C0" fill-opacity="0.110"/>
<polygon points="540.00,245.41 606.00,306.93 606.00,321.30 540.00,260.55" fill="#1670C0" fill-opacity="0.147"/>
<polygon points="540.00,246.16 606.00,307.65 606.00,320.58 540.00,259.80" fill="#1670C0" fill-opacity="0.181"/>
<polygon points="540.00,246.92 606.00,308.37 606.00,319.86 540.00,259.04" fill="#1670C0" fill-opacity="0.210"/>
<polygon points="540.00,247.68 606.00,309.09 606.00,319.15 540.00,258.28" fill="#1670C0" fill-opacity="0.225"/>
<polygon points="540.00,248.44 606.00,309.81 606.00,318.43 540.00,257.52" fill="#1670C0" fill-opacity="0.200"/>
<polygon points="540.00,249.19 606.00,310.52 606.00,317.71 540.00,256.77" fill="#1670C0" fill-opacity="0.093"/>
<polygon points="540.00,363.39 576.00,333.67 576.00,355.95 540.00,385.68" fill="#1670C0" fill-opacity="0.018"/>
<polygon points="540.00,364.25 576.00,334.53 576.00,355.10 540.00,384.82" fill="#1670C0" fill-opacity="0.050"/>
<polygon points="540.00,365.10 576.00,335.38 576.00,354.24 540.00,383.96" fill="#1670C0" fill-opacity="0.079"/>
<polygon points="540.00,365.96 576.00,336.24 576.00,353.38 540.00,383.10" fill="#1670C0" fill-opacity="0.105"/>
<polygon points="540.00,366.82 576.00,337.10 576.00,352.53 540.00,382.25" fill="#1670C0" fill-opacity="0.131"/>
<polygon points="540.00,367.68 576.00,337.95 576.00,351.67 540.00,381.39" fill="#1670C0" fill-opacity="0.154"/>
<polygon points="540.00,368.53 576.00,338.81 576.00,350.81 540.00,380.53" fill="#1670C0" fill-opacity="0.174"/>
<polygon points="540.00,369.39 576.00,339.67 576.00,349.95 540.00,379.68" fill="#1670C0" fill-opacity="0.186"/>
<polygon points="540.00,370.25 576.00,340.53 576.00,349.10 540.00,378.82" fill="#1670C0" fill-opacity="0.179"/>
<polygon points="540.00,371.10 576.00,341.38 576.00,348.24 540.00,377.96" fill="#1670C0" fill-opacity="0.134"/>
<polygon points="540.00,371.96 576.00,342.24 576.00,347.38 540.00,377.10" fill="#1670C0" fill-opacity="0.037"/>
<polygon points="576.00,333.67 607.00,293.99 607.00,332.67 576.00,355.95" fill="#1670C0" fill-opacity="0.018"/>
<polygon points="576.00,334.53 607.00,295.48 607.00,331.18 576.00,355.10" fill="#1670C0" fill-opacity="0.050"/>
<polygon points="576.00,335.38 607.00,296.97 607.00,329.70 576.00,354.24" fill="#1670C0" fill-opacity="0.079"/>
<polygon points="576.00,336.24 607.00,298.46 607.00,328.21 576.00,353.38" fill="#1670C0" fill-opacity="0.105"/>
<polygon points="576.00,337.10 607.00,299.94 607.00,326.72 576.00,352.53" fill="#1670C0" fill-opacity="0.131"/>
<polygon points="576.00,337.95 607.00,301.43 607.00,325.23 576.00,351.67" fill="#1670C0" fill-opacity="0.154"/>
<polygon points="576.00,338.81 607.00,302.92 607.00,323.75 576.00,350.81" fill="#1670C0" fill-opacity="0.174"/>
<polygon points="576.00,339.67 607.00,304.41 607.00,322.26 576.00,349.95" fill="#1670C0" fill-opacity="0.186"/>
<polygon points="576.00,340.53 607.00,305.89 607.00,320.77 576.00,349.10" fill="#1670C0" fill-opacity="0.179"/>
<polygon points="576.00,341.38 607.00,307.38 607.00,319.28 576.00,348.24" fill="#1670C0" fill-opacity="0.134"/>
<polygon points="576.00,342.24 607.00,308.87 607.00,317.80 576.00,347.38" fill="#1670C0" fill-opacity="0.037"/>
<line x1="553.40" y1="365.30" x2="664.80" y2="273.00" stroke="#2BE02B" stroke-width="1.1" stroke-dasharray="3.5,2.5"/>
</g>
<path d="M610.2,372.3 L610.2,311 L614,272.8" fill="none" stroke="#EDB120" stroke-width="1.4"/>
<rect x="605.40" y="288.40" width="8.00" height="35.80" fill="none" stroke="#262626" stroke-width="0.9"/>
<g clip-path="url(#clipli)">
<rect x="617.4" y="313.3" width="41.20" height="47.50" fill="#fff"/>
<polygon points="617.40,313.30 651.80,313.30 637.40,347.50 637.40,360.80 617.40,360.80" fill="url(#gli)" />
<polygon points="646.00,313.30 651.80,313.30 637.40,347.50 634.00,347.50" fill="#1670C0" fill-opacity="0.35"/>
<polygon points="651.80,313.30 658.60,313.30 658.60,343.90 637.40,347.50" fill="#1670C0" fill-opacity="0.22"/>
<line x1="617.40" y1="314.55" x2="642.40" y2="322.55" stroke="#fff" stroke-width="0.9" stroke-opacity="0.56"/>
<line x1="617.40" y1="318.45" x2="642.40" y2="326.45" stroke="#fff" stroke-width="0.9" stroke-opacity="0.49"/>
<line x1="617.40" y1="321.02" x2="642.40" y2="329.02" stroke="#fff" stroke-width="0.9" stroke-opacity="0.59"/>
<line x1="617.40" y1="325.11" x2="642.40" y2="333.11" stroke="#fff" stroke-width="0.9" stroke-opacity="0.50"/>
<line x1="617.40" y1="327.86" x2="642.40" y2="335.86" stroke="#fff" stroke-width="0.9" stroke-opacity="0.42"/>
<line x1="617.40" y1="330.30" x2="642.40" y2="338.30" stroke="#fff" stroke-width="0.9" stroke-opacity="0.46"/>
<line x1="617.40" y1="334.38" x2="642.40" y2="342.38" stroke="#fff" stroke-width="0.9" stroke-opacity="0.37"/>
<line x1="617.40" y1="337.89" x2="642.40" y2="345.89" stroke="#fff" stroke-width="0.9" stroke-opacity="0.42"/>
<line x1="617.40" y1="340.25" x2="642.40" y2="348.25" stroke="#fff" stroke-width="0.9" stroke-opacity="0.36"/>
<line x1="617.40" y1="344.60" x2="642.40" y2="352.60" stroke="#fff" stroke-width="0.9" stroke-opacity="0.57"/>
<line x1="617.40" y1="347.61" x2="642.40" y2="355.61" stroke="#fff" stroke-width="0.9" stroke-opacity="0.53"/>
<line x1="617.40" y1="349.55" x2="642.40" y2="357.55" stroke="#fff" stroke-width="0.9" stroke-opacity="0.45"/>
<line x1="637.00" y1="345.25" x2="660.60" y2="336.25" stroke="#fff" stroke-width="0.9" stroke-opacity="0.43"/>
<line x1="637.00" y1="340.97" x2="660.60" y2="331.97" stroke="#fff" stroke-width="0.9" stroke-opacity="0.51"/>
<line x1="637.00" y1="338.57" x2="660.60" y2="329.57" stroke="#fff" stroke-width="0.9" stroke-opacity="0.65"/>
<line x1="637.00" y1="335.01" x2="660.60" y2="326.01" stroke="#fff" stroke-width="0.9" stroke-opacity="0.68"/>
<line x1="637.00" y1="330.92" x2="660.60" y2="321.92" stroke="#fff" stroke-width="0.9" stroke-opacity="0.57"/>
<line x1="637.00" y1="327.49" x2="660.60" y2="318.49" stroke="#fff" stroke-width="0.9" stroke-opacity="0.55"/>
<line x1="637.00" y1="324.12" x2="660.60" y2="315.12" stroke="#fff" stroke-width="0.9" stroke-opacity="0.41"/>
<line x1="637.00" y1="319.50" x2="660.60" y2="310.50" stroke="#fff" stroke-width="0.9" stroke-opacity="0.47"/>
<line x1="637.00" y1="316.03" x2="660.60" y2="307.03" stroke="#fff" stroke-width="0.9" stroke-opacity="0.46"/>
<polygon points="638.00,347.20 658.60,343.60 658.60,341.20 640.00,344.80" fill="#fff" fill-opacity="0.7"/>
<line x1="617.40" y1="352.30" x2="658.60" y2="343.90" stroke="#2BE02B" stroke-width="1.1" stroke-dasharray="3.5,2.5"/>
</g>
<path d="M637.4,360.8 L637.4,347.5 L651.8,313.3" fill="none" stroke="#EDB120" stroke-width="1.6"/>
<rect x="617.40" y="313.30" width="41.20" height="47.50" fill="none" stroke="#262626" stroke-width="0.9"/>
<text x="617.40" y="369.00" font-size="6.6" text-anchor="middle" font-weight="normal" fill="#262626" color="#262626" >130</text>
<text x="658.60" y="369.00" font-size="6.6" text-anchor="middle" font-weight="normal" fill="#262626" color="#262626" >150</text>
<text x="561.30" y="369.00" font-size="6.4" text-anchor="start" font-weight="normal" fill="#111" color="#111" ><tspan font-style="italic">&#948;</tspan><tspan font-size="4.6" dy="1.5">1,max</tspan><tspan dy="-1.5"> = 0.03</tspan></text>
<line x1="562.00" y1="363.40" x2="564.40" y2="363.40" stroke="#111" stroke-width="0.5" />
<rect x="553.40" y="272.80" width="111.40" height="99.50" fill="none" stroke="#262626" stroke-width="0.9"/>
<line x1="553.40" y1="341.10" x2="555.90" y2="341.10" stroke="#262626" stroke-width="0.8" />
<line x1="664.80" y1="341.10" x2="662.30" y2="341.10" stroke="#262626" stroke-width="0.8" />
<line x1="553.40" y1="311.40" x2="555.90" y2="311.40" stroke="#262626" stroke-width="0.8" />
<line x1="664.80" y1="311.40" x2="662.30" y2="311.40" stroke="#262626" stroke-width="0.8" />
<line x1="553.40" y1="281.60" x2="555.90" y2="281.60" stroke="#262626" stroke-width="0.8" />
<line x1="664.80" y1="281.60" x2="662.30" y2="281.60" stroke="#262626" stroke-width="0.8" />
<line x1="610.20" y1="372.30" x2="610.20" y2="369.80" stroke="#262626" stroke-width="0.8" />
<line x1="610.20" y1="272.80" x2="610.20" y2="275.30" stroke="#262626" stroke-width="0.8" />
<text x="553.40" y="383.80" font-size="9.4" text-anchor="middle" font-weight="normal" fill="#262626" color="#262626" >1</text>
<text x="610.20" y="383.80" font-size="9.4" text-anchor="middle" font-weight="normal" fill="#262626" color="#262626" >140</text>
<text x="664.80" y="383.80" font-size="9.4" text-anchor="middle" font-weight="normal" fill="#262626" color="#262626" >280</text>
<text x="549.10" y="375.50" font-size="9.4" text-anchor="end" font-weight="normal" fill="#262626" color="#262626" >0</text>
<text x="549.10" y="344.30" font-size="9.4" text-anchor="end" font-weight="normal" fill="#262626" color="#262626" >0.6</text>
<text x="549.10" y="314.60" font-size="9.4" text-anchor="end" font-weight="normal" fill="#262626" color="#262626" >1.2</text>
<text x="549.10" y="284.80" font-size="9.4" text-anchor="end" font-weight="normal" fill="#262626" color="#262626" >1.8</text>
<text x="609.10" y="395.80" font-size="9.4" text-anchor="middle" font-weight="normal" fill="#262626" color="#262626" >Rotor Index <tspan font-style="italic">n</tspan></text>
<text x="515.00" y="268.50" font-size="9.4" text-anchor="start" font-weight="bold" fill="#000" color="#000" >l</text>
<text x="554.00" y="269.30" font-size="9.4" text-anchor="start" font-weight="normal" fill="#262626" color="#262626" >&#215;10<tspan font-size="6.5" dy="-3">2</tspan></text>
<g transform="translate(531.00,322.40) rotate(-90)"><text x="0" y="0" font-size="9.4" text-anchor="middle" fill="#262626" color="#262626" font-style="italic">t</text><path d="M-1.80,-7.10 C-1.08,-8.70 -0.36,-7.80 0,-7.60 S1.08,-6.60 1.80,-8.20" fill="none" stroke="#262626" stroke-width="0.75"/></g>
</svg></body></html>
